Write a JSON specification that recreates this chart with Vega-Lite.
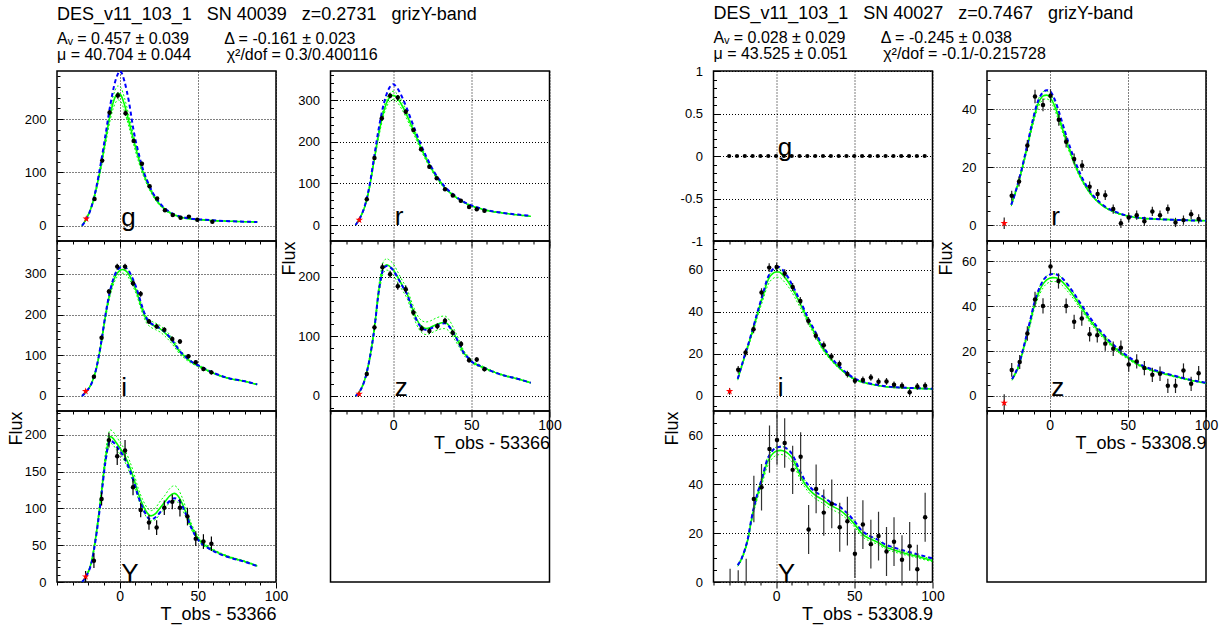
{
 "$schema": "https://vega.github.io/schema/vega-lite/v6.json",
 "padding": {"left": 6, "top": 3, "right": 5, "bottom": 5},
 "background": "#ffffff",
 "columns": 5,
 "spacing": {"row": 0, "column": 54.5},
 "bounds": "flush",
 "datasets": {
  "lab": [
   {"s":"L","b":"g","t":1,"f":0,"txt":"g"},{"s":"L","b":"r","t":1,"f":0,"txt":"r"},{"s":"L","b":"i","t":1,"f":0,"txt":"i"},{"s":"L","b":"z","t":1,"f":0,"txt":"z"},{"s":"L","b":"Y","t":1,"f":0,"txt":"Y"},
   {"s":"R","b":"g","t":1,"f":0,"txt":"g"},{"s":"R","b":"r","t":1,"f":0,"txt":"r"},{"s":"R","b":"i","t":1,"f":0,"txt":"i"},{"s":"R","b":"z","t":1,"f":0,"txt":"z"},{"s":"R","b":"Y","t":1,"f":0,"txt":"Y"}
  ],
  "pts": [
   {"s":"L","b":"g","k":"s","t":-21.3,"f":13,"el":10,"eh":16},
   {"s":"L","b":"g","k":"d","t":-16,"f":50,"el":47,"eh":53},
   {"s":"L","b":"g","k":"d","t":-11.1,"f":122,"el":118,"eh":126},
   {"s":"L","b":"g","k":"d","t":-6.4,"f":212,"el":207,"eh":217},
   {"s":"L","b":"g","k":"d","t":-1.1,"f":244,"el":238,"eh":250},
   {"s":"L","b":"g","k":"d","t":3.8,"f":211,"el":206,"eh":216},
   {"s":"L","b":"g","k":"d","t":9,"f":159,"el":155,"eh":163},
   {"s":"L","b":"g","k":"d","t":14.3,"f":116,"el":112,"eh":120},
   {"s":"L","b":"g","k":"d","t":19.2,"f":74,"el":71,"eh":77},
   {"s":"L","b":"g","k":"d","t":24,"f":51,"el":48,"eh":54},
   {"s":"L","b":"g","k":"d","t":29,"f":29,"el":26,"eh":32},
   {"s":"L","b":"g","k":"d","t":34,"f":20,"el":17,"eh":23},
   {"s":"L","b":"g","k":"d","t":39,"f":15,"el":12,"eh":18},
   {"s":"L","b":"g","k":"d","t":44.3,"f":17,"el":14,"eh":20},
   {"s":"L","b":"g","k":"d","t":49.7,"f":11,"el":8,"eh":14},
   {"s":"L","b":"g","k":"d","t":59.3,"f":7.5,"el":4.5,"eh":10.5},

   {"s":"L","b":"r","k":"s","t":-21.6,"f":12,"el":8,"eh":16},
   {"s":"L","b":"r","k":"d","t":-16.8,"f":62,"el":57,"eh":67},
   {"s":"L","b":"r","k":"d","t":-11.9,"f":161,"el":156,"eh":166},
   {"s":"L","b":"r","k":"d","t":-7.2,"f":256,"el":250,"eh":262},
   {"s":"L","b":"r","k":"d","t":-1.9,"f":310,"el":304,"eh":316},
   {"s":"L","b":"r","k":"d","t":3,"f":306,"el":300,"eh":312},
   {"s":"L","b":"r","k":"d","t":8.1,"f":272,"el":266,"eh":278},
   {"s":"L","b":"r","k":"d","t":13,"f":228,"el":223,"eh":233},
   {"s":"L","b":"r","k":"d","t":17.9,"f":182,"el":177,"eh":187},
   {"s":"L","b":"r","k":"d","t":23.2,"f":140,"el":135,"eh":145},
   {"s":"L","b":"r","k":"d","t":27.9,"f":112,"el":108,"eh":116},
   {"s":"L","b":"r","k":"d","t":33.2,"f":86,"el":82,"eh":90},
   {"s":"L","b":"r","k":"d","t":38.2,"f":71,"el":67,"eh":75},
   {"s":"L","b":"r","k":"d","t":43.3,"f":58,"el":54,"eh":62},
   {"s":"L","b":"r","k":"d","t":48.6,"f":43,"el":39,"eh":47},
   {"s":"L","b":"r","k":"d","t":53.5,"f":38,"el":34,"eh":42},
   {"s":"L","b":"r","k":"d","t":58.4,"f":34,"el":30,"eh":38},

   {"s":"L","b":"i","k":"s","t":-21.7,"f":11.5,"el":8,"eh":15},
   {"s":"L","b":"i","k":"d","t":-16.4,"f":47.5,"el":43,"eh":52},
   {"s":"L","b":"i","k":"d","t":-11.5,"f":143,"el":138,"eh":148},
   {"s":"L","b":"i","k":"d","t":-6.8,"f":257,"el":251,"eh":263},
   {"s":"L","b":"i","k":"d","t":-1.5,"f":318,"el":311,"eh":325},
   {"s":"L","b":"i","k":"d","t":3.5,"f":318,"el":311,"eh":325},
   {"s":"L","b":"i","k":"d","t":8.6,"f":277,"el":270,"eh":284},
   {"s":"L","b":"i","k":"d","t":13.5,"f":251,"el":244,"eh":258},
   {"s":"L","b":"i","k":"d","t":18.8,"f":183,"el":177,"eh":189},
   {"s":"L","b":"i","k":"d","t":23.7,"f":171,"el":165,"eh":177},
   {"s":"L","b":"i","k":"d","t":28.6,"f":163,"el":157,"eh":169},
   {"s":"L","b":"i","k":"d","t":33.7,"f":140,"el":134,"eh":146},
   {"s":"L","b":"i","k":"d","t":38.6,"f":134,"el":128,"eh":140},
   {"s":"L","b":"i","k":"d","t":44,"f":97.5,"el":92,"eh":103},
   {"s":"L","b":"i","k":"d","t":48.7,"f":83,"el":78,"eh":88},
   {"s":"L","b":"i","k":"d","t":53.6,"f":66,"el":61,"eh":71},
   {"s":"L","b":"i","k":"d","t":58.7,"f":58,"el":53,"eh":63},

   {"s":"L","b":"z","k":"s","t":-21.7,"f":3.4,"el":0,"eh":7},
   {"s":"L","b":"z","k":"d","t":-16.8,"f":37,"el":33,"eh":41},
   {"s":"L","b":"z","k":"d","t":-11.9,"f":115,"el":110,"eh":120},
   {"s":"L","b":"z","k":"d","t":-6.8,"f":216,"el":210,"eh":222},
   {"s":"L","b":"z","k":"d","t":-1.9,"f":204,"el":198,"eh":210},
   {"s":"L","b":"z","k":"d","t":3,"f":184,"el":178,"eh":190},
   {"s":"L","b":"z","k":"d","t":8.1,"f":179,"el":173,"eh":185},
   {"s":"L","b":"z","k":"d","t":13,"f":140,"el":135,"eh":145},
   {"s":"L","b":"z","k":"d","t":18.3,"f":113,"el":108,"eh":118},
   {"s":"L","b":"z","k":"d","t":23.2,"f":109,"el":104,"eh":114},
   {"s":"L","b":"z","k":"d","t":28.3,"f":117,"el":112,"eh":122},
   {"s":"L","b":"z","k":"d","t":33.2,"f":126,"el":121,"eh":131},
   {"s":"L","b":"z","k":"d","t":38.1,"f":106,"el":101,"eh":111},
   {"s":"L","b":"z","k":"d","t":43.5,"f":87,"el":82,"eh":92},
   {"s":"L","b":"z","k":"d","t":48.6,"f":60,"el":56,"eh":64},
   {"s":"L","b":"z","k":"d","t":53.5,"f":61,"el":57,"eh":65},
   {"s":"L","b":"z","k":"d","t":58.4,"f":45,"el":41,"eh":49},

   {"s":"L","b":"Y","k":"s","t":-21.7,"f":7.3,"el":0,"eh":15},
   {"s":"L","b":"Y","k":"d","t":-16.4,"f":29,"el":19,"eh":39},
   {"s":"L","b":"Y","k":"d","t":-11.5,"f":113,"el":104,"eh":122},
   {"s":"L","b":"Y","k":"d","t":-6.8,"f":193,"el":183,"eh":203},
   {"s":"L","b":"Y","k":"d","t":-1.5,"f":171,"el":159,"eh":183},
   {"s":"L","b":"Y","k":"d","t":3.5,"f":179,"el":165,"eh":193},
   {"s":"L","b":"Y","k":"d","t":8.6,"f":129,"el":118,"eh":140},
   {"s":"L","b":"Y","k":"d","t":13.5,"f":98,"el":88,"eh":108},
   {"s":"L","b":"Y","k":"d","t":18.8,"f":81,"el":71,"eh":91},
   {"s":"L","b":"Y","k":"d","t":23.7,"f":74,"el":64,"eh":84},
   {"s":"L","b":"Y","k":"d","t":28.6,"f":101,"el":91,"eh":111},
   {"s":"L","b":"Y","k":"d","t":33.7,"f":109,"el":99,"eh":119},
   {"s":"L","b":"Y","k":"d","t":38.6,"f":101,"el":89,"eh":113},
   {"s":"L","b":"Y","k":"d","t":43.4,"f":89,"el":77,"eh":101},
   {"s":"L","b":"Y","k":"d","t":48.7,"f":59,"el":49,"eh":69},
   {"s":"L","b":"Y","k":"d","t":53.6,"f":55,"el":45,"eh":65},
   {"s":"L","b":"Y","k":"d","t":58.7,"f":52,"el":42,"eh":62},

   {"s":"R","b":"g","k":"d","t":-30,"f":0,"el":0,"eh":0},{"s":"R","b":"g","k":"d","t":-25,"f":0,"el":0,"eh":0},{"s":"R","b":"g","k":"d","t":-20,"f":0,"el":0,"eh":0},{"s":"R","b":"g","k":"d","t":-15,"f":0,"el":0,"eh":0},{"s":"R","b":"g","k":"d","t":-10,"f":0,"el":0,"eh":0},{"s":"R","b":"g","k":"d","t":-5,"f":0,"el":0,"eh":0},{"s":"R","b":"g","k":"d","t":0,"f":0,"el":0,"eh":0},{"s":"R","b":"g","k":"d","t":5,"f":0,"el":0,"eh":0},{"s":"R","b":"g","k":"d","t":10,"f":0,"el":0,"eh":0},{"s":"R","b":"g","k":"d","t":15,"f":0,"el":0,"eh":0},{"s":"R","b":"g","k":"d","t":20,"f":0,"el":0,"eh":0},{"s":"R","b":"g","k":"d","t":25,"f":0,"el":0,"eh":0},{"s":"R","b":"g","k":"d","t":30,"f":0,"el":0,"eh":0},{"s":"R","b":"g","k":"d","t":35,"f":0,"el":0,"eh":0},{"s":"R","b":"g","k":"d","t":40,"f":0,"el":0,"eh":0},{"s":"R","b":"g","k":"d","t":45,"f":0,"el":0,"eh":0},{"s":"R","b":"g","k":"d","t":50,"f":0,"el":0,"eh":0},{"s":"R","b":"g","k":"d","t":55,"f":0,"el":0,"eh":0},{"s":"R","b":"g","k":"d","t":60,"f":0,"el":0,"eh":0},{"s":"R","b":"g","k":"d","t":65,"f":0,"el":0,"eh":0},{"s":"R","b":"g","k":"d","t":70,"f":0,"el":0,"eh":0},{"s":"R","b":"g","k":"d","t":75,"f":0,"el":0,"eh":0},{"s":"R","b":"g","k":"d","t":80,"f":0,"el":0,"eh":0},{"s":"R","b":"g","k":"d","t":85,"f":0,"el":0,"eh":0},{"s":"R","b":"g","k":"d","t":90,"f":0,"el":0,"eh":0},{"s":"R","b":"g","k":"d","t":95,"f":0,"el":0,"eh":0},

   {"s":"R","b":"r","k":"s","t":-29,"f":0.6,"el":-1.4,"eh":2.6},
   {"s":"R","b":"r","k":"d","t":-24.2,"f":10.1,"el":8.4,"eh":11.8},
   {"s":"R","b":"r","k":"d","t":-19.5,"f":15,"el":13.3,"eh":16.7},
   {"s":"R","b":"r","k":"d","t":-14.2,"f":27.4,"el":25.5,"eh":29.3},
   {"s":"R","b":"r","k":"d","t":-9.3,"f":44.3,"el":42,"eh":46.6},
   {"s":"R","b":"r","k":"d","t":-4.2,"f":41.4,"el":39.2,"eh":43.6},
   {"s":"R","b":"r","k":"d","t":0.6,"f":44.6,"el":42.4,"eh":46.8},
   {"s":"R","b":"r","k":"d","t":5.9,"f":36.3,"el":34.2,"eh":38.4},
   {"s":"R","b":"r","k":"d","t":10.6,"f":28.7,"el":26.7,"eh":30.7},
   {"s":"R","b":"r","k":"d","t":15.7,"f":22.8,"el":20.9,"eh":24.7},
   {"s":"R","b":"r","k":"d","t":20.8,"f":20.5,"el":18.6,"eh":22.4},
   {"s":"R","b":"r","k":"d","t":25.6,"f":13.2,"el":11.4,"eh":15},
   {"s":"R","b":"r","k":"d","t":30.7,"f":10.7,"el":9,"eh":12.4},
   {"s":"R","b":"r","k":"d","t":35.6,"f":10.3,"el":8.6,"eh":12},
   {"s":"R","b":"r","k":"d","t":40.7,"f":5.5,"el":3.9,"eh":7.1},
   {"s":"R","b":"r","k":"d","t":45.6,"f":0.6,"el":-1,"eh":2.2},
   {"s":"R","b":"r","k":"d","t":50.6,"f":2.6,"el":1,"eh":4.2},
   {"s":"R","b":"r","k":"d","t":55.7,"f":3.4,"el":1.8,"eh":5},
   {"s":"R","b":"r","k":"d","t":60.6,"f":1.3,"el":-0.3,"eh":2.9},
   {"s":"R","b":"r","k":"d","t":65.7,"f":4.7,"el":3.1,"eh":6.3},
   {"s":"R","b":"r","k":"d","t":70.6,"f":3.4,"el":1.8,"eh":5},
   {"s":"R","b":"r","k":"d","t":75.6,"f":5.5,"el":3.9,"eh":7.1},
   {"s":"R","b":"r","k":"d","t":80.5,"f":0.9,"el":-0.7,"eh":2.5},
   {"s":"R","b":"r","k":"d","t":85.6,"f":1.7,"el":0.1,"eh":3.3},
   {"s":"R","b":"r","k":"d","t":90.5,"f":3.7,"el":2.1,"eh":5.3},
   {"s":"R","b":"r","k":"d","t":95.3,"f":2.1,"el":0.5,"eh":3.7},

   {"s":"R","b":"i","k":"s","t":-29.7,"f":2.1,"el":0.5,"eh":3.7},
   {"s":"R","b":"i","k":"d","t":-24.2,"f":12.4,"el":10.6,"eh":14.2},
   {"s":"R","b":"i","k":"d","t":-19.5,"f":20.6,"el":18.8,"eh":22.4},
   {"s":"R","b":"i","k":"d","t":-14.4,"f":31.7,"el":29.8,"eh":33.6},
   {"s":"R","b":"i","k":"d","t":-9.3,"f":49.2,"el":47.2,"eh":51.2},
   {"s":"R","b":"i","k":"d","t":-4.4,"f":61.1,"el":59,"eh":63.2},
   {"s":"R","b":"i","k":"d","t":0.4,"f":61.4,"el":59.3,"eh":63.5},
   {"s":"R","b":"i","k":"d","t":5.5,"f":58.3,"el":56.3,"eh":60.3},
   {"s":"R","b":"i","k":"d","t":10.6,"f":51.9,"el":50,"eh":53.8},
   {"s":"R","b":"i","k":"d","t":15.5,"f":45.2,"el":43.3,"eh":47.1},
   {"s":"R","b":"i","k":"d","t":20.6,"f":35.7,"el":33.9,"eh":37.5},
   {"s":"R","b":"i","k":"d","t":25.4,"f":28.6,"el":26.8,"eh":30.4},
   {"s":"R","b":"i","k":"d","t":30.5,"f":24.1,"el":22.3,"eh":25.9},
   {"s":"R","b":"i","k":"d","t":35.4,"f":18.7,"el":17,"eh":20.4},
   {"s":"R","b":"i","k":"d","t":40.5,"f":15.1,"el":13.4,"eh":16.8},
   {"s":"R","b":"i","k":"d","t":45.6,"f":10.3,"el":8.7,"eh":11.9},
   {"s":"R","b":"i","k":"d","t":50.4,"f":7.1,"el":5.5,"eh":8.7},
   {"s":"R","b":"i","k":"d","t":55.5,"f":7.5,"el":5.9,"eh":9.1},
   {"s":"R","b":"i","k":"d","t":60.6,"f":8.7,"el":7.1,"eh":10.3},
   {"s":"R","b":"i","k":"d","t":65.5,"f":6.7,"el":5.1,"eh":8.3},
   {"s":"R","b":"i","k":"d","t":70.6,"f":6.8,"el":5.2,"eh":8.4},
   {"s":"R","b":"i","k":"d","t":75.4,"f":5.2,"el":3.6,"eh":6.8},
   {"s":"R","b":"i","k":"d","t":80.5,"f":4.8,"el":3.2,"eh":6.4},
   {"s":"R","b":"i","k":"d","t":85.4,"f":1.6,"el":0,"eh":3.2},
   {"s":"R","b":"i","k":"d","t":90.3,"f":4.4,"el":2.8,"eh":6},
   {"s":"R","b":"i","k":"d","t":95.3,"f":4.8,"el":3.2,"eh":6.4},

   {"s":"R","b":"z","k":"s","t":-29,"f":-3.1,"el":-7,"eh":0.8},
   {"s":"R","b":"z","k":"d","t":-24.2,"f":11.6,"el":8.5,"eh":14.7},
   {"s":"R","b":"z","k":"d","t":-19.1,"f":15.1,"el":12,"eh":18.2},
   {"s":"R","b":"z","k":"d","t":-14.2,"f":27.8,"el":24.6,"eh":31},
   {"s":"R","b":"z","k":"d","t":-9.3,"f":43,"el":39.6,"eh":46.4},
   {"s":"R","b":"z","k":"d","t":-4.2,"f":40.1,"el":36.7,"eh":43.5},
   {"s":"R","b":"z","k":"d","t":0.6,"f":57.6,"el":54.2,"eh":61},
   {"s":"R","b":"z","k":"d","t":5.7,"f":51.2,"el":47.8,"eh":54.6},
   {"s":"R","b":"z","k":"d","t":10.6,"f":40.1,"el":36.8,"eh":43.4},
   {"s":"R","b":"z","k":"d","t":15.7,"f":33,"el":29.8,"eh":36.2},
   {"s":"R","b":"z","k":"d","t":20.6,"f":34.5,"el":31.3,"eh":37.7},
   {"s":"R","b":"z","k":"d","t":25.6,"f":27.5,"el":24.3,"eh":30.7},
   {"s":"R","b":"z","k":"d","t":30.5,"f":27,"el":23.8,"eh":30.2},
   {"s":"R","b":"z","k":"d","t":35.6,"f":23.3,"el":20.1,"eh":26.5},
   {"s":"R","b":"z","k":"d","t":40.7,"f":21,"el":17.8,"eh":24.2},
   {"s":"R","b":"z","k":"d","t":45.6,"f":21.5,"el":18.3,"eh":24.7},
   {"s":"R","b":"z","k":"d","t":50.6,"f":14,"el":10.8,"eh":17.2},
   {"s":"R","b":"z","k":"d","t":55.7,"f":15.4,"el":12.2,"eh":18.6},
   {"s":"R","b":"z","k":"d","t":60.6,"f":12.4,"el":9.2,"eh":15.6},
   {"s":"R","b":"z","k":"d","t":65.7,"f":9.4,"el":6.2,"eh":12.6},
   {"s":"R","b":"z","k":"d","t":70.6,"f":9.9,"el":6.7,"eh":13.1},
   {"s":"R","b":"z","k":"d","t":75.6,"f":4.5,"el":1.3,"eh":7.7},
   {"s":"R","b":"z","k":"d","t":80.5,"f":4.5,"el":1.3,"eh":7.7},
   {"s":"R","b":"z","k":"d","t":85.6,"f":11.3,"el":8.1,"eh":14.5},
   {"s":"R","b":"z","k":"d","t":90.5,"f":5.4,"el":2.2,"eh":8.6},
   {"s":"R","b":"z","k":"d","t":95.3,"f":10.1,"el":6.9,"eh":13.3},

   {"s":"R","b":"Y","k":"d","t":-29.4,"f":-5,"el":-15.4,"eh":5.4},
   {"s":"R","b":"Y","k":"d","t":-24.2,"f":-5.5,"el":-15.8,"eh":4.8},
   {"s":"R","b":"Y","k":"d","t":-19.1,"f":-1,"el":-11.5,"eh":9.5},
   {"s":"R","b":"Y","k":"d","t":-14.2,"f":34,"el":24.5,"eh":43.5},
   {"s":"R","b":"Y","k":"d","t":-9.3,"f":38.8,"el":29.3,"eh":48.3},
   {"s":"R","b":"Y","k":"d","t":-4.2,"f":54.4,"el":44.7,"eh":64.1},
   {"s":"R","b":"Y","k":"d","t":0.6,"f":58.1,"el":48,"eh":68.2},
   {"s":"R","b":"Y","k":"d","t":5.5,"f":56.9,"el":46.8,"eh":67},
   {"s":"R","b":"Y","k":"d","t":10.6,"f":45.9,"el":36,"eh":55.8},
   {"s":"R","b":"Y","k":"d","t":15.7,"f":51.3,"el":41.3,"eh":61.3},
   {"s":"R","b":"Y","k":"d","t":20.8,"f":21.5,"el":11.5,"eh":31.5},
   {"s":"R","b":"Y","k":"d","t":25.6,"f":38.1,"el":28.1,"eh":48.1},
   {"s":"R","b":"Y","k":"d","t":30.5,"f":28.4,"el":18.9,"eh":37.9},
   {"s":"R","b":"Y","k":"d","t":35.6,"f":32,"el":22,"eh":42},
   {"s":"R","b":"Y","k":"d","t":40.7,"f":22.4,"el":12.4,"eh":32.4},
   {"s":"R","b":"Y","k":"d","t":45.6,"f":24.9,"el":14.9,"eh":34.9},
   {"s":"R","b":"Y","k":"d","t":50.4,"f":11.6,"el":1.6,"eh":21.6},
   {"s":"R","b":"Y","k":"d","t":55.5,"f":23.5,"el":13.5,"eh":33.5},
   {"s":"R","b":"Y","k":"d","t":60.6,"f":15.5,"el":5.5,"eh":25.5},
   {"s":"R","b":"Y","k":"d","t":65.5,"f":18.8,"el":8.8,"eh":28.8},
   {"s":"R","b":"Y","k":"d","t":70.6,"f":12.5,"el":2.5,"eh":22.5},
   {"s":"R","b":"Y","k":"d","t":75.4,"f":16.5,"el":6.5,"eh":26.5},
   {"s":"R","b":"Y","k":"d","t":80.5,"f":9.1,"el":-0.9,"eh":19.1},
   {"s":"R","b":"Y","k":"d","t":85.4,"f":14.6,"el":4.6,"eh":24.6},
   {"s":"R","b":"Y","k":"d","t":90.3,"f":5.2,"el":-4.8,"eh":15.2},
   {"s":"R","b":"Y","k":"d","t":95.3,"f":26.5,"el":16.5,"eh":36.5}
  ],
  "crv": [
   {"s":"L","b":"g","t":-24,"fit":0,"lo":0,"hi":0,"alt":0},
   {"s":"L","b":"g","t":-21,"fit":14,"lo":13,"hi":15,"alt":13},
   {"s":"L","b":"g","t":-18,"fit":35,"lo":33,"hi":37,"alt":35},
   {"s":"L","b":"g","t":-15,"fit":68,"lo":64,"hi":72,"alt":70},
   {"s":"L","b":"g","t":-12,"fit":110,"lo":104,"hi":116,"alt":117},
   {"s":"L","b":"g","t":-9,"fit":160,"lo":152,"hi":168,"alt":170},
   {"s":"L","b":"g","t":-6,"fit":208,"lo":198,"hi":218,"alt":225},
   {"s":"L","b":"g","t":-3,"fit":240,"lo":228,"hi":253,"alt":268},
   {"s":"L","b":"g","t":-1,"fit":248,"lo":236,"hi":262,"alt":285},
   {"s":"L","b":"g","t":0,"fit":247,"lo":235,"hi":261,"alt":290},
   {"s":"L","b":"g","t":1,"fit":244,"lo":232,"hi":258,"alt":288},
   {"s":"L","b":"g","t":3,"fit":228,"lo":216,"hi":241,"alt":272},
   {"s":"L","b":"g","t":6,"fit":195,"lo":185,"hi":206,"alt":232},
   {"s":"L","b":"g","t":9,"fit":160,"lo":152,"hi":169,"alt":178},
   {"s":"L","b":"g","t":12,"fit":128,"lo":121,"hi":135,"alt":138},
   {"s":"L","b":"g","t":15,"fit":100,"lo":95,"hi":106,"alt":105},
   {"s":"L","b":"g","t":18,"fit":78,"lo":74,"hi":83,"alt":82},
   {"s":"L","b":"g","t":21,"fit":60,"lo":57,"hi":64,"alt":63},
   {"s":"L","b":"g","t":24,"fit":46,"lo":44,"hi":49,"alt":49},
   {"s":"L","b":"g","t":27,"fit":36,"lo":34,"hi":38,"alt":38},
   {"s":"L","b":"g","t":30,"fit":28,"lo":26.5,"hi":29.5,"alt":30},
   {"s":"L","b":"g","t":33,"fit":23,"lo":22,"hi":24.5,"alt":24},
   {"s":"L","b":"g","t":36,"fit":19,"lo":18,"hi":20,"alt":20},
   {"s":"L","b":"g","t":39,"fit":16,"lo":15,"hi":17,"alt":17},
   {"s":"L","b":"g","t":42,"fit":14,"lo":13.3,"hi":14.8,"alt":15},
   {"s":"L","b":"g","t":45,"fit":13,"lo":12.3,"hi":13.7,"alt":13.5},
   {"s":"L","b":"g","t":50,"fit":11.5,"lo":11,"hi":12,"alt":12},
   {"s":"L","b":"g","t":55,"fit":10.5,"lo":10,"hi":11,"alt":11},
   {"s":"L","b":"g","t":60,"fit":9.5,"lo":9,"hi":10,"alt":10},
   {"s":"L","b":"g","t":70,"fit":8.5,"lo":8,"hi":9,"alt":8.5},
   {"s":"L","b":"g","t":80,"fit":7.5,"lo":7.1,"hi":7.9,"alt":7.5},
   {"s":"L","b":"g","t":88,"fit":7,"lo":6.6,"hi":7.4,"alt":7},

   {"s":"L","b":"r","t":-24,"fit":0,"lo":0,"hi":0,"alt":0},
   {"s":"L","b":"r","t":-21,"fit":18,"lo":17,"hi":19,"alt":18},
   {"s":"L","b":"r","t":-18,"fit":45,"lo":43,"hi":47,"alt":47},
   {"s":"L","b":"r","t":-15,"fit":92,"lo":88,"hi":96,"alt":96},
   {"s":"L","b":"r","t":-12,"fit":158,"lo":152,"hi":164,"alt":166},
   {"s":"L","b":"r","t":-9,"fit":222,"lo":214,"hi":230,"alt":235},
   {"s":"L","b":"r","t":-6,"fit":272,"lo":263,"hi":281,"alt":290},
   {"s":"L","b":"r","t":-3,"fit":302,"lo":292,"hi":312,"alt":325},
   {"s":"L","b":"r","t":-1,"fit":310,"lo":300,"hi":320,"alt":336},
   {"s":"L","b":"r","t":0,"fit":311,"lo":301,"hi":321,"alt":338},
   {"s":"L","b":"r","t":1,"fit":310,"lo":300,"hi":320,"alt":336},
   {"s":"L","b":"r","t":3,"fit":303,"lo":293,"hi":313,"alt":327},
   {"s":"L","b":"r","t":6,"fit":285,"lo":275,"hi":295,"alt":305},
   {"s":"L","b":"r","t":9,"fit":262,"lo":253,"hi":271,"alt":278},
   {"s":"L","b":"r","t":12,"fit":236,"lo":228,"hi":244,"alt":248},
   {"s":"L","b":"r","t":15,"fit":210,"lo":203,"hi":217,"alt":219},
   {"s":"L","b":"r","t":18,"fit":184,"lo":178,"hi":190,"alt":191},
   {"s":"L","b":"r","t":21,"fit":160,"lo":155,"hi":165,"alt":166},
   {"s":"L","b":"r","t":24,"fit":139,"lo":135,"hi":143,"alt":143},
   {"s":"L","b":"r","t":27,"fit":120,"lo":116,"hi":124,"alt":123},
   {"s":"L","b":"r","t":30,"fit":104,"lo":101,"hi":107,"alt":107},
   {"s":"L","b":"r","t":33,"fit":90,"lo":87,"hi":93,"alt":92},
   {"s":"L","b":"r","t":36,"fit":79,"lo":77,"hi":81,"alt":81},
   {"s":"L","b":"r","t":39,"fit":70,"lo":68,"hi":72,"alt":72},
   {"s":"L","b":"r","t":42,"fit":62,"lo":60,"hi":64,"alt":63},
   {"s":"L","b":"r","t":45,"fit":55,"lo":53.5,"hi":56.5,"alt":56},
   {"s":"L","b":"r","t":50,"fit":46,"lo":45,"hi":47,"alt":47},
   {"s":"L","b":"r","t":55,"fit":40,"lo":39,"hi":41,"alt":41},
   {"s":"L","b":"r","t":60,"fit":35,"lo":34,"hi":36,"alt":36},
   {"s":"L","b":"r","t":70,"fit":29,"lo":28.3,"hi":29.7,"alt":29},
   {"s":"L","b":"r","t":80,"fit":24,"lo":23.4,"hi":24.6,"alt":25},
   {"s":"L","b":"r","t":88,"fit":21,"lo":20.5,"hi":21.5,"alt":22},

   {"s":"L","b":"i","t":-24,"fit":0,"lo":0,"hi":0,"alt":0},
   {"s":"L","b":"i","t":-21,"fit":12,"lo":11,"hi":13,"alt":12},
   {"s":"L","b":"i","t":-18,"fit":30,"lo":28,"hi":32,"alt":30},
   {"s":"L","b":"i","t":-15,"fit":65,"lo":62,"hi":68,"alt":66},
   {"s":"L","b":"i","t":-12,"fit":124,"lo":119,"hi":129,"alt":126},
   {"s":"L","b":"i","t":-9,"fit":197,"lo":190,"hi":204,"alt":200},
   {"s":"L","b":"i","t":-6,"fit":255,"lo":247,"hi":263,"alt":260},
   {"s":"L","b":"i","t":-3,"fit":292,"lo":283,"hi":301,"alt":298},
   {"s":"L","b":"i","t":0,"fit":308,"lo":299,"hi":317,"alt":315},
   {"s":"L","b":"i","t":2,"fit":311,"lo":302,"hi":320,"alt":318},
   {"s":"L","b":"i","t":5,"fit":304,"lo":295,"hi":313,"alt":312},
   {"s":"L","b":"i","t":8,"fit":283,"lo":274,"hi":292,"alt":292},
   {"s":"L","b":"i","t":11,"fit":255,"lo":247,"hi":263,"alt":263},
   {"s":"L","b":"i","t":14,"fit":218,"lo":210,"hi":226,"alt":225},
   {"s":"L","b":"i","t":17,"fit":189,"lo":181,"hi":197,"alt":193},
   {"s":"L","b":"i","t":20,"fit":177,"lo":169,"hi":185,"alt":179},
   {"s":"L","b":"i","t":23,"fit":171,"lo":163,"hi":179,"alt":172},
   {"s":"L","b":"i","t":26,"fit":165,"lo":157,"hi":173,"alt":166},
   {"s":"L","b":"i","t":29,"fit":155,"lo":147,"hi":163,"alt":157},
   {"s":"L","b":"i","t":32,"fit":143,"lo":135,"hi":151,"alt":145},
   {"s":"L","b":"i","t":35,"fit":128,"lo":121,"hi":135,"alt":130},
   {"s":"L","b":"i","t":38,"fit":111,"lo":105,"hi":117,"alt":113},
   {"s":"L","b":"i","t":41,"fit":99,"lo":94,"hi":104,"alt":100},
   {"s":"L","b":"i","t":44,"fit":89,"lo":85,"hi":93,"alt":90},
   {"s":"L","b":"i","t":47,"fit":81,"lo":78,"hi":84,"alt":82},
   {"s":"L","b":"i","t":50,"fit":75,"lo":72,"hi":78,"alt":76},
   {"s":"L","b":"i","t":55,"fit":65,"lo":63,"hi":67,"alt":66},
   {"s":"L","b":"i","t":60,"fit":56,"lo":54.5,"hi":57.5,"alt":57},
   {"s":"L","b":"i","t":70,"fit":43,"lo":42,"hi":44,"alt":43.5},
   {"s":"L","b":"i","t":80,"fit":36,"lo":35,"hi":37,"alt":36},
   {"s":"L","b":"i","t":88,"fit":28,"lo":27.3,"hi":28.7,"alt":28.5},

   {"s":"L","b":"z","t":-24,"fit":0,"lo":0,"hi":0,"alt":0},
   {"s":"L","b":"z","t":-21,"fit":9,"lo":8,"hi":10,"alt":9},
   {"s":"L","b":"z","t":-18,"fit":28,"lo":26,"hi":30,"alt":28},
   {"s":"L","b":"z","t":-15,"fit":62,"lo":58,"hi":66,"alt":62},
   {"s":"L","b":"z","t":-12,"fit":112,"lo":106,"hi":118,"alt":112},
   {"s":"L","b":"z","t":-9,"fit":179,"lo":171,"hi":187,"alt":178},
   {"s":"L","b":"z","t":-6,"fit":216,"lo":207,"hi":226,"alt":214},
   {"s":"L","b":"z","t":-4,"fit":220,"lo":211,"hi":230,"alt":218},
   {"s":"L","b":"z","t":-2,"fit":217,"lo":208,"hi":227,"alt":216},
   {"s":"L","b":"z","t":0,"fit":212,"lo":203,"hi":222,"alt":211},
   {"s":"L","b":"z","t":3,"fit":199,"lo":190,"hi":208,"alt":198},
   {"s":"L","b":"z","t":6,"fit":185,"lo":177,"hi":193,"alt":184},
   {"s":"L","b":"z","t":9,"fit":171,"lo":163,"hi":179,"alt":170},
   {"s":"L","b":"z","t":12,"fit":149,"lo":141,"hi":157,"alt":148},
   {"s":"L","b":"z","t":15,"fit":129,"lo":120,"hi":138,"alt":127},
   {"s":"L","b":"z","t":18,"fit":117,"lo":107,"hi":127,"alt":115},
   {"s":"L","b":"z","t":21,"fit":113,"lo":103,"hi":124,"alt":111},
   {"s":"L","b":"z","t":24,"fit":115,"lo":105,"hi":126,"alt":113},
   {"s":"L","b":"z","t":27,"fit":119,"lo":109,"hi":130,"alt":117},
   {"s":"L","b":"z","t":30,"fit":122,"lo":112,"hi":133,"alt":120},
   {"s":"L","b":"z","t":33,"fit":123.5,"lo":113,"hi":134,"alt":122},
   {"s":"L","b":"z","t":36,"fit":117,"lo":108,"hi":127,"alt":116},
   {"s":"L","b":"z","t":39,"fit":104,"lo":96,"hi":112,"alt":104},
   {"s":"L","b":"z","t":42,"fit":89,"lo":83,"hi":95,"alt":89},
   {"s":"L","b":"z","t":45,"fit":73,"lo":69,"hi":77,"alt":73},
   {"s":"L","b":"z","t":48,"fit":64,"lo":61,"hi":67,"alt":64},
   {"s":"L","b":"z","t":51,"fit":56,"lo":54,"hi":58,"alt":56},
   {"s":"L","b":"z","t":55,"fit":51,"lo":49,"hi":53,"alt":51},
   {"s":"L","b":"z","t":60,"fit":45,"lo":43.5,"hi":46.5,"alt":45},
   {"s":"L","b":"z","t":70,"fit":35,"lo":34,"hi":36,"alt":35},
   {"s":"L","b":"z","t":80,"fit":28.5,"lo":27.7,"hi":29.3,"alt":28.5},
   {"s":"L","b":"z","t":88,"fit":22,"lo":21.4,"hi":22.6,"alt":22},

   {"s":"L","b":"Y","t":-24,"fit":0,"lo":0,"hi":0,"alt":0},
   {"s":"L","b":"Y","t":-21,"fit":9,"lo":8,"hi":10,"alt":9},
   {"s":"L","b":"Y","t":-18,"fit":27,"lo":25,"hi":29,"alt":26},
   {"s":"L","b":"Y","t":-15,"fit":64,"lo":60,"hi":68,"alt":62},
   {"s":"L","b":"Y","t":-12,"fit":114,"lo":108,"hi":120,"alt":111},
   {"s":"L","b":"Y","t":-9,"fit":168,"lo":160,"hi":176,"alt":164},
   {"s":"L","b":"Y","t":-7,"fit":193,"lo":184,"hi":202,"alt":188},
   {"s":"L","b":"Y","t":-6,"fit":198,"lo":189,"hi":207,"alt":192},
   {"s":"L","b":"Y","t":-4,"fit":195,"lo":186,"hi":204,"alt":190},
   {"s":"L","b":"Y","t":-2,"fit":189,"lo":180,"hi":198,"alt":185},
   {"s":"L","b":"Y","t":0,"fit":183,"lo":175,"hi":191,"alt":179},
   {"s":"L","b":"Y","t":3,"fit":173,"lo":165,"hi":181,"alt":169},
   {"s":"L","b":"Y","t":6,"fit":159,"lo":151,"hi":167,"alt":155},
   {"s":"L","b":"Y","t":9,"fit":141,"lo":133,"hi":149,"alt":137},
   {"s":"L","b":"Y","t":12,"fit":120,"lo":113,"hi":127,"alt":116},
   {"s":"L","b":"Y","t":15,"fit":104,"lo":97,"hi":111,"alt":100},
   {"s":"L","b":"Y","t":18,"fit":93,"lo":86,"hi":100,"alt":88},
   {"s":"L","b":"Y","t":20,"fit":90,"lo":83,"hi":97,"alt":85},
   {"s":"L","b":"Y","t":23,"fit":93,"lo":85,"hi":101,"alt":88},
   {"s":"L","b":"Y","t":26,"fit":101,"lo":93,"hi":110,"alt":95},
   {"s":"L","b":"Y","t":29,"fit":109,"lo":100,"hi":118,"alt":103},
   {"s":"L","b":"Y","t":32,"fit":117,"lo":108,"hi":127,"alt":110},
   {"s":"L","b":"Y","t":35,"fit":120.5,"lo":111,"hi":131,"alt":114},
   {"s":"L","b":"Y","t":37,"fit":118,"lo":109,"hi":128,"alt":113},
   {"s":"L","b":"Y","t":40,"fit":107,"lo":99,"hi":115,"alt":104},
   {"s":"L","b":"Y","t":43,"fit":91,"lo":85,"hi":97,"alt":89},
   {"s":"L","b":"Y","t":46,"fit":75,"lo":71,"hi":79,"alt":73},
   {"s":"L","b":"Y","t":49,"fit":63,"lo":60,"hi":66,"alt":61},
   {"s":"L","b":"Y","t":52,"fit":54.5,"lo":52,"hi":57,"alt":53},
   {"s":"L","b":"Y","t":56,"fit":48,"lo":46,"hi":50,"alt":47},
   {"s":"L","b":"Y","t":60,"fit":43,"lo":41.5,"hi":44.5,"alt":42},
   {"s":"L","b":"Y","t":70,"fit":34,"lo":33,"hi":35,"alt":33.5},
   {"s":"L","b":"Y","t":80,"fit":28,"lo":27.2,"hi":28.8,"alt":27.5},
   {"s":"L","b":"Y","t":88,"fit":22,"lo":21.4,"hi":22.6,"alt":21.5},

   {"s":"R","b":"r","t":-24.5,"fit":7,"lo":6.5,"hi":7.5,"alt":7},
   {"s":"R","b":"r","t":-22,"fit":11,"lo":10.4,"hi":11.6,"alt":11},
   {"s":"R","b":"r","t":-20,"fit":14.5,"lo":13.8,"hi":15.2,"alt":14.8},
   {"s":"R","b":"r","t":-18,"fit":18.5,"lo":17.7,"hi":19.3,"alt":18.9},
   {"s":"R","b":"r","t":-16,"fit":23,"lo":22.1,"hi":23.9,"alt":23.5},
   {"s":"R","b":"r","t":-14,"fit":27.5,"lo":26.5,"hi":28.5,"alt":28.2},
   {"s":"R","b":"r","t":-12,"fit":32.5,"lo":31.4,"hi":33.6,"alt":33.2},
   {"s":"R","b":"r","t":-10,"fit":37,"lo":35.8,"hi":38.2,"alt":37.8},
   {"s":"R","b":"r","t":-8,"fit":40.8,"lo":39.5,"hi":42.1,"alt":41.8},
   {"s":"R","b":"r","t":-6,"fit":43.3,"lo":42,"hi":44.7,"alt":44.4},
   {"s":"R","b":"r","t":-4,"fit":44.6,"lo":43.3,"hi":46,"alt":45.8},
   {"s":"R","b":"r","t":-2,"fit":44.8,"lo":43.5,"hi":46.2,"alt":46.5},
   {"s":"R","b":"r","t":0,"fit":44.2,"lo":42.9,"hi":45.6,"alt":46.3},
   {"s":"R","b":"r","t":2,"fit":42.5,"lo":41.2,"hi":43.9,"alt":44.8},
   {"s":"R","b":"r","t":4,"fit":40,"lo":38.7,"hi":41.4,"alt":42.3},
   {"s":"R","b":"r","t":6,"fit":36.8,"lo":35.6,"hi":38.1,"alt":39},
   {"s":"R","b":"r","t":8,"fit":33.5,"lo":32.4,"hi":34.7,"alt":35.5},
   {"s":"R","b":"r","t":10,"fit":30.2,"lo":29.2,"hi":31.3,"alt":32},
   {"s":"R","b":"r","t":12,"fit":27,"lo":26.1,"hi":28,"alt":28.6},
   {"s":"R","b":"r","t":14,"fit":24,"lo":23.2,"hi":24.9,"alt":25.4},
   {"s":"R","b":"r","t":16,"fit":21.2,"lo":20.5,"hi":22,"alt":22.4},
   {"s":"R","b":"r","t":18,"fit":18.6,"lo":18,"hi":19.3,"alt":19.7},
   {"s":"R","b":"r","t":20,"fit":16.3,"lo":15.8,"hi":16.9,"alt":17.2},
   {"s":"R","b":"r","t":24,"fit":12.5,"lo":12.1,"hi":13,"alt":13.2},
   {"s":"R","b":"r","t":28,"fit":9.6,"lo":9.3,"hi":9.9,"alt":10.1},
   {"s":"R","b":"r","t":32,"fit":7.5,"lo":7.3,"hi":7.8,"alt":7.9},
   {"s":"R","b":"r","t":36,"fit":5.9,"lo":5.7,"hi":6.1,"alt":6.2},
   {"s":"R","b":"r","t":40,"fit":4.8,"lo":4.6,"hi":5,"alt":5},
   {"s":"R","b":"r","t":45,"fit":3.8,"lo":3.6,"hi":4,"alt":4},
   {"s":"R","b":"r","t":50,"fit":3.1,"lo":3,"hi":3.3,"alt":3.2},
   {"s":"R","b":"r","t":55,"fit":2.6,"lo":2.5,"hi":2.7,"alt":2.7},
   {"s":"R","b":"r","t":60,"fit":2.3,"lo":2.2,"hi":2.4,"alt":2.4},
   {"s":"R","b":"r","t":70,"fit":2,"lo":1.9,"hi":2.1,"alt":2},
   {"s":"R","b":"r","t":80,"fit":1.8,"lo":1.7,"hi":1.9,"alt":1.8},
   {"s":"R","b":"r","t":90,"fit":1.6,"lo":1.5,"hi":1.7,"alt":1.6},
   {"s":"R","b":"r","t":100,"fit":1.5,"lo":1.4,"hi":1.6,"alt":1.5},

   {"s":"R","b":"i","t":-24.5,"fit":7.9,"lo":7.4,"hi":8.4,"alt":8.1},
   {"s":"R","b":"i","t":-22,"fit":14,"lo":13.3,"hi":14.6,"alt":14.3},
   {"s":"R","b":"i","t":-20,"fit":19,"lo":18.2,"hi":19.8,"alt":19.4},
   {"s":"R","b":"i","t":-18,"fit":23.5,"lo":22.6,"hi":24.4,"alt":24},
   {"s":"R","b":"i","t":-16,"fit":28.5,"lo":27.4,"hi":29.5,"alt":29.1},
   {"s":"R","b":"i","t":-14,"fit":33.5,"lo":32.2,"hi":34.6,"alt":34.2},
   {"s":"R","b":"i","t":-12,"fit":38.8,"lo":37.3,"hi":40,"alt":39.6},
   {"s":"R","b":"i","t":-10,"fit":43.7,"lo":42,"hi":45,"alt":44.7},
   {"s":"R","b":"i","t":-8,"fit":48.5,"lo":46.6,"hi":49.8,"alt":49.7},
   {"s":"R","b":"i","t":-6,"fit":53.5,"lo":51.3,"hi":54.8,"alt":54.9},
   {"s":"R","b":"i","t":-4,"fit":56.8,"lo":54.4,"hi":58.1,"alt":58.4},
   {"s":"R","b":"i","t":-2,"fit":58.4,"lo":55.9,"hi":59.7,"alt":60.3},
   {"s":"R","b":"i","t":0,"fit":59,"lo":56.5,"hi":60.4,"alt":61.2},
   {"s":"R","b":"i","t":2,"fit":59,"lo":56.5,"hi":60.4,"alt":61.4},
   {"s":"R","b":"i","t":4,"fit":57.8,"lo":55.4,"hi":59.2,"alt":60.2},
   {"s":"R","b":"i","t":6,"fit":56,"lo":53.7,"hi":57.4,"alt":58.3},
   {"s":"R","b":"i","t":8,"fit":54,"lo":51.8,"hi":55.4,"alt":56.1},
   {"s":"R","b":"i","t":10,"fit":51.6,"lo":49.5,"hi":53,"alt":53.3},
   {"s":"R","b":"i","t":12,"fit":48.8,"lo":46.8,"hi":50.2,"alt":50.4},
   {"s":"R","b":"i","t":14,"fit":45.9,"lo":44,"hi":47.2,"alt":47.4},
   {"s":"R","b":"i","t":16,"fit":43,"lo":41.3,"hi":44.3,"alt":44.4},
   {"s":"R","b":"i","t":18,"fit":39.8,"lo":38.3,"hi":41,"alt":41.1},
   {"s":"R","b":"i","t":20,"fit":36.5,"lo":35.1,"hi":37.6,"alt":37.8},
   {"s":"R","b":"i","t":23,"fit":32.2,"lo":31,"hi":33.2,"alt":33.4},
   {"s":"R","b":"i","t":26,"fit":28,"lo":27,"hi":28.9,"alt":29.2},
   {"s":"R","b":"i","t":29,"fit":23.6,"lo":22.8,"hi":24.4,"alt":24.7},
   {"s":"R","b":"i","t":32,"fit":20.3,"lo":19.6,"hi":21,"alt":21.3},
   {"s":"R","b":"i","t":35,"fit":17.5,"lo":16.9,"hi":18.1,"alt":18.4},
   {"s":"R","b":"i","t":38,"fit":15,"lo":14.5,"hi":15.5,"alt":15.8},
   {"s":"R","b":"i","t":41,"fit":12.9,"lo":12.5,"hi":13.3,"alt":13.6},
   {"s":"R","b":"i","t":44,"fit":10.9,"lo":10.6,"hi":11.2,"alt":11.5},
   {"s":"R","b":"i","t":47,"fit":9.3,"lo":9,"hi":9.6,"alt":9.8},
   {"s":"R","b":"i","t":50,"fit":7.9,"lo":7.7,"hi":8.1,"alt":8.3},
   {"s":"R","b":"i","t":55,"fit":6.5,"lo":6.3,"hi":6.7,"alt":6.8},
   {"s":"R","b":"i","t":60,"fit":5.6,"lo":5.4,"hi":5.8,"alt":5.8},
   {"s":"R","b":"i","t":70,"fit":4.3,"lo":4.2,"hi":4.4,"alt":4.5},
   {"s":"R","b":"i","t":80,"fit":3.8,"lo":3.7,"hi":3.9,"alt":3.9},
   {"s":"R","b":"i","t":90,"fit":3.5,"lo":3.4,"hi":3.6,"alt":3.6},
   {"s":"R","b":"i","t":100,"fit":3.2,"lo":3.1,"hi":3.3,"alt":3.3},

   {"s":"R","b":"z","t":-24,"fit":7.3,"lo":6.9,"hi":7.7,"alt":7.5},
   {"s":"R","b":"z","t":-22,"fit":9.8,"lo":9.3,"hi":10.3,"alt":10.1},
   {"s":"R","b":"z","t":-20,"fit":12.8,"lo":12.2,"hi":13.4,"alt":13.2},
   {"s":"R","b":"z","t":-18,"fit":17.5,"lo":16.8,"hi":18.2,"alt":18},
   {"s":"R","b":"z","t":-16,"fit":22.8,"lo":21.9,"hi":23.7,"alt":23.4},
   {"s":"R","b":"z","t":-14,"fit":28.2,"lo":27.1,"hi":29.3,"alt":29},
   {"s":"R","b":"z","t":-12,"fit":33.8,"lo":32.5,"hi":35.1,"alt":34.8},
   {"s":"R","b":"z","t":-10,"fit":39.7,"lo":38.2,"hi":41.2,"alt":40.8},
   {"s":"R","b":"z","t":-8,"fit":44,"lo":42.4,"hi":45.6,"alt":45.3},
   {"s":"R","b":"z","t":-6,"fit":47.5,"lo":45.8,"hi":49.2,"alt":48.9},
   {"s":"R","b":"z","t":-4,"fit":50,"lo":48.3,"hi":51.7,"alt":51.5},
   {"s":"R","b":"z","t":-2,"fit":51.6,"lo":49.9,"hi":53.3,"alt":53.2},
   {"s":"R","b":"z","t":0,"fit":52.4,"lo":50.7,"hi":54.1,"alt":54},
   {"s":"R","b":"z","t":2,"fit":52.7,"lo":51,"hi":54.4,"alt":54.3},
   {"s":"R","b":"z","t":4,"fit":52.6,"lo":50.9,"hi":54.3,"alt":54.2},
   {"s":"R","b":"z","t":6,"fit":52,"lo":50.3,"hi":53.7,"alt":53.6},
   {"s":"R","b":"z","t":8,"fit":50.9,"lo":49.3,"hi":52.5,"alt":52.5},
   {"s":"R","b":"z","t":10,"fit":49.4,"lo":47.8,"hi":51,"alt":51},
   {"s":"R","b":"z","t":12,"fit":47.7,"lo":46.2,"hi":49.2,"alt":49.2},
   {"s":"R","b":"z","t":15,"fit":44.9,"lo":43.5,"hi":46.3,"alt":46.3},
   {"s":"R","b":"z","t":18,"fit":41.8,"lo":40.5,"hi":43.1,"alt":43.1},
   {"s":"R","b":"z","t":20,"fit":39.7,"lo":38.5,"hi":40.9,"alt":41},
   {"s":"R","b":"z","t":25,"fit":34.5,"lo":33.4,"hi":35.6,"alt":35.7},
   {"s":"R","b":"z","t":30,"fit":30,"lo":29,"hi":31,"alt":31.1},
   {"s":"R","b":"z","t":35,"fit":26,"lo":25.1,"hi":26.9,"alt":27},
   {"s":"R","b":"z","t":40,"fit":22.5,"lo":21.7,"hi":23.3,"alt":23.4},
   {"s":"R","b":"z","t":45,"fit":19.5,"lo":18.8,"hi":20.2,"alt":20.3},
   {"s":"R","b":"z","t":50,"fit":17,"lo":16.4,"hi":17.6,"alt":17.7},
   {"s":"R","b":"z","t":55,"fit":14.7,"lo":14.2,"hi":15.2,"alt":15.3},
   {"s":"R","b":"z","t":60,"fit":12.8,"lo":12.4,"hi":13.2,"alt":13.3},
   {"s":"R","b":"z","t":65,"fit":11.6,"lo":11.2,"hi":12,"alt":12},
   {"s":"R","b":"z","t":70,"fit":10.6,"lo":10.3,"hi":10.9,"alt":10.9},
   {"s":"R","b":"z","t":75,"fit":9.6,"lo":9.3,"hi":9.9,"alt":9.9},
   {"s":"R","b":"z","t":80,"fit":8.7,"lo":8.4,"hi":9,"alt":9},
   {"s":"R","b":"z","t":90,"fit":7,"lo":6.8,"hi":7.2,"alt":7.2},
   {"s":"R","b":"z","t":100,"fit":5.7,"lo":5.5,"hi":5.9,"alt":5.8},

   {"s":"R","b":"Y","t":-24.5,"fit":6.8,"lo":6.4,"hi":7.2,"alt":6.9},
   {"s":"R","b":"Y","t":-22,"fit":9.5,"lo":9,"hi":10,"alt":9.7},
   {"s":"R","b":"Y","t":-20,"fit":12.9,"lo":12.3,"hi":13.5,"alt":13.2},
   {"s":"R","b":"Y","t":-18,"fit":17.5,"lo":16.8,"hi":18.2,"alt":17.9},
   {"s":"R","b":"Y","t":-16,"fit":24.5,"lo":23.6,"hi":25.4,"alt":25},
   {"s":"R","b":"Y","t":-14,"fit":30.5,"lo":29.4,"hi":31.6,"alt":31.1},
   {"s":"R","b":"Y","t":-12,"fit":35.3,"lo":34,"hi":36.6,"alt":36},
   {"s":"R","b":"Y","t":-10,"fit":39.5,"lo":38,"hi":41,"alt":40.3},
   {"s":"R","b":"Y","t":-8,"fit":43.8,"lo":42.2,"hi":45.4,"alt":44.8},
   {"s":"R","b":"Y","t":-6,"fit":48.3,"lo":46.6,"hi":50,"alt":49.5},
   {"s":"R","b":"Y","t":-4,"fit":50.9,"lo":49.2,"hi":52.6,"alt":52.2},
   {"s":"R","b":"Y","t":-2,"fit":52.6,"lo":50.9,"hi":54.3,"alt":54},
   {"s":"R","b":"Y","t":0,"fit":53.5,"lo":51.8,"hi":55.2,"alt":55},
   {"s":"R","b":"Y","t":3,"fit":53.9,"lo":52.2,"hi":55.6,"alt":55.4},
   {"s":"R","b":"Y","t":6,"fit":53.3,"lo":51.6,"hi":55,"alt":54.9},
   {"s":"R","b":"Y","t":8,"fit":52.4,"lo":50.7,"hi":54.1,"alt":54},
   {"s":"R","b":"Y","t":10,"fit":51,"lo":49.3,"hi":52.7,"alt":52.6},
   {"s":"R","b":"Y","t":12,"fit":48.6,"lo":47,"hi":50.2,"alt":50.2},
   {"s":"R","b":"Y","t":15,"fit":44.2,"lo":42.7,"hi":45.7,"alt":45.8},
   {"s":"R","b":"Y","t":18,"fit":40.6,"lo":39.2,"hi":42,"alt":42.1},
   {"s":"R","b":"Y","t":20,"fit":38.8,"lo":37.4,"hi":40.2,"alt":40.2},
   {"s":"R","b":"Y","t":22,"fit":37.3,"lo":35.9,"hi":38.7,"alt":38.7},
   {"s":"R","b":"Y","t":25,"fit":35.6,"lo":34.2,"hi":37,"alt":37},
   {"s":"R","b":"Y","t":30,"fit":33.6,"lo":32.2,"hi":35,"alt":35},
   {"s":"R","b":"Y","t":35,"fit":31.3,"lo":29.9,"hi":32.7,"alt":32.6},
   {"s":"R","b":"Y","t":40,"fit":29.7,"lo":28.3,"hi":31.1,"alt":31},
   {"s":"R","b":"Y","t":45,"fit":27.2,"lo":25.9,"hi":28.5,"alt":28.5},
   {"s":"R","b":"Y","t":50,"fit":23.8,"lo":22.6,"hi":25,"alt":25},
   {"s":"R","b":"Y","t":55,"fit":19.7,"lo":18.6,"hi":20.8,"alt":20.9},
   {"s":"R","b":"Y","t":60,"fit":17.7,"lo":16.7,"hi":18.7,"alt":18.8},
   {"s":"R","b":"Y","t":65,"fit":16.3,"lo":15.4,"hi":17.2,"alt":17.3},
   {"s":"R","b":"Y","t":70,"fit":14.3,"lo":13.5,"hi":15.1,"alt":15.3},
   {"s":"R","b":"Y","t":75,"fit":13.2,"lo":12.4,"hi":14,"alt":14.2},
   {"s":"R","b":"Y","t":80,"fit":12.2,"lo":11.5,"hi":12.9,"alt":13.2},
   {"s":"R","b":"Y","t":90,"fit":10.5,"lo":9.9,"hi":11.1,"alt":11.4},
   {"s":"R","b":"Y","t":100,"fit":8.8,"lo":8.3,"hi":9.3,"alt":9.7}
  ]
 },
 "concat": [
  {
   "width": 219, "height": 170,
   "title": {"text": "DES_v11_103_1\u00a0\u00a0\u00a0SN 40039\u00a0\u00a0\u00a0z=0.2731\u00a0\u00a0\u00a0grizY-band", "subtitle": ["A\u1d65 = 0.457 \u00b1 0.039\u00a0\u00a0\u00a0\u00a0\u00a0\u00a0\u00a0 \u0394 = -0.161 \u00b1 0.023", "\u03bc = 40.704 \u00b1 0.044\u00a0\u00a0\u00a0\u00a0\u00a0\u00a0\u00a0 \u03c7\u00b2/dof = 0.3/0.400116"]},
   "resolve": {"axis": {"x": "independent", "y": "independent"}},
   "layer": [
    {"data": {"name": "crv"}, "transform": [{"filter": "datum.s=='L'&&datum.b=='g'"}], "mark": {"type": "line", "color": "#00ff00", "strokeWidth": 1.6, "interpolate": "monotone", "clip": true}, "encoding": {
      "x": {"field": "t", "type": "quantitative", "scale": {"domain": [-40,100], "nice": false, "zero": false}, "axis": {"orient": "bottom", "values": [0,50,100], "labels": false, "tickSize": 6, "title": null}},
      "y": {"field": "fit", "type": "quantitative", "scale": {"domain": [-28.7,290], "nice": false, "zero": false}, "axis": {"orient": "left", "values": [0,100,200], "tickSize": -6, "labelPadding": 17, "title": null}}}},
    {"data": {"name": "crv"}, "transform": [{"filter": "datum.s=='L'&&datum.b=='g'"}], "mark": {"type": "line", "color": "#00ff00", "strokeWidth": 1, "strokeDash": [2,2], "interpolate": "monotone", "clip": true}, "encoding": {"x": {"field": "t", "type": "quantitative", "scale": {"domain": [-40,100], "nice": false, "zero": false}, "axis": null}, "y": {"field": "lo", "type": "quantitative", "scale": {"domain": [-28.7,290], "nice": false, "zero": false}, "axis": null}}},
    {"data": {"name": "crv"}, "transform": [{"filter": "datum.s=='L'&&datum.b=='g'"}], "mark": {"type": "line", "color": "#00ff00", "strokeWidth": 1, "strokeDash": [2,2], "interpolate": "monotone", "clip": true}, "encoding": {"x": {"field": "t", "type": "quantitative", "scale": {"domain": [-40,100], "nice": false, "zero": false}, "axis": null}, "y": {"field": "hi", "type": "quantitative", "scale": {"domain": [-28.7,290], "nice": false, "zero": false}, "axis": null}}},
    {"data": {"name": "crv"}, "transform": [{"filter": "datum.s=='L'&&datum.b=='g'"}], "mark": {"type": "line", "color": "#0000ff", "strokeWidth": 2, "strokeDash": [4,3], "interpolate": "monotone", "clip": true}, "encoding": {"x": {"field": "t", "type": "quantitative", "scale": {"domain": [-40,100], "nice": false, "zero": false}, "axis": null}, "y": {"field": "alt", "type": "quantitative", "scale": {"domain": [-28.7,290], "nice": false, "zero": false}, "axis": null}}},
    {"data": {"name": "pts"}, "transform": [{"filter": "datum.s=='L'&&datum.b=='g'"}], "mark": {"type": "rule", "color": "#000", "strokeWidth": 1.2, "clip": true}, "encoding": {"x": {"field": "t", "type": "quantitative", "scale": {"domain": [-40,100], "nice": false, "zero": false}, "axis": null}, "y": {"field": "el", "type": "quantitative", "scale": {"domain": [-28.7,290], "nice": false, "zero": false}, "axis": null}, "y2": {"field": "eh"}}},
    {"data": {"name": "pts"}, "transform": [{"filter": "datum.s=='L'&&datum.b=='g'&&datum.k=='d'"}], "mark": {"type": "point", "filled": true, "color": "#000", "opacity": 1, "size": 20, "clip": true}, "encoding": {"x": {"field": "t", "type": "quantitative", "scale": {"domain": [-40,100], "nice": false, "zero": false}, "axis": null}, "y": {"field": "f", "type": "quantitative", "scale": {"domain": [-28.7,290], "nice": false, "zero": false}, "axis": null}}},
    {"data": {"name": "pts"}, "transform": [{"filter": "datum.s=='L'&&datum.b=='g'&&datum.k=='s'"}], "mark": {"type": "point", "shape": "M0,-1L0.2245,-0.309L0.9511,-0.309L0.3633,0.118L0.5878,0.809L0,0.382L-0.5878,0.809L-0.3633,0.118L-0.9511,-0.309L-0.2245,-0.309Z", "filled": true, "color": "#ff0000", "opacity": 1, "size": 60, "clip": true}, "encoding": {"x": {"field": "t", "type": "quantitative", "scale": {"domain": [-40,100], "nice": false, "zero": false}, "axis": null}, "y": {"field": "f", "type": "quantitative", "scale": {"domain": [-28.7,290], "nice": false, "zero": false}, "axis": null}}},
    {"data": {"name": "lab"}, "transform": [{"filter": "datum.s=='L'&&datum.b=='g'"}], "mark": {"type": "text", "fontSize": 26, "align": "left", "baseline": "alphabetic", "color": "#000"}, "encoding": {"x": {"field": "t", "type": "quantitative", "scale": {"domain": [-40,100], "nice": false, "zero": false}, "axis": {"orient": "bottom", "values": [-40,-30,-20,-10,10,20,30,40,60,70,80,90], "labels": false, "grid": false, "tickSize": 3, "title": null}}, "y": {"field": "f", "type": "quantitative", "scale": {"domain": [-28.7,290], "nice": false, "zero": false}, "axis": {"orient": "left", "values": [-20,20,40,60,80,120,140,160,180,220,240,260,280], "labels": false, "grid": false, "tickSize": -3, "title": null}}, "text": {"field": "txt"}}}
   ]
  },
  {
   "width": 219, "height": 170,
   "resolve": {"axis": {"x": "independent", "y": "independent"}},
   "layer": [
    {"data": {"name": "crv"}, "transform": [{"filter": "datum.s=='L'&&datum.b=='r'"}], "mark": {"type": "line", "color": "#00ff00", "strokeWidth": 1.6, "interpolate": "monotone", "clip": true}, "encoding": {
      "x": {"field": "t", "type": "quantitative", "scale": {"domain": [-40,100], "nice": false, "zero": false}, "axis": {"orient": "bottom", "values": [0,50,100], "labels": false, "tickSize": 6, "title": null}},
      "y": {"field": "fit", "type": "quantitative", "scale": {"domain": [-38.4,369.6], "nice": false, "zero": false}, "axis": {"orient": "left", "values": [0,100,200,300], "tickSize": -6, "labelPadding": 17, "title": null}}}},
    {"data": {"name": "crv"}, "transform": [{"filter": "datum.s=='L'&&datum.b=='r'"}], "mark": {"type": "line", "color": "#00ff00", "strokeWidth": 1, "strokeDash": [2,2], "interpolate": "monotone", "clip": true}, "encoding": {"x": {"field": "t", "type": "quantitative", "scale": {"domain": [-40,100], "nice": false, "zero": false}, "axis": null}, "y": {"field": "lo", "type": "quantitative", "scale": {"domain": [-38.4,369.6], "nice": false, "zero": false}, "axis": null}}},
    {"data": {"name": "crv"}, "transform": [{"filter": "datum.s=='L'&&datum.b=='r'"}], "mark": {"type": "line", "color": "#00ff00", "strokeWidth": 1, "strokeDash": [2,2], "interpolate": "monotone", "clip": true}, "encoding": {"x": {"field": "t", "type": "quantitative", "scale": {"domain": [-40,100], "nice": false, "zero": false}, "axis": null}, "y": {"field": "hi", "type": "quantitative", "scale": {"domain": [-38.4,369.6], "nice": false, "zero": false}, "axis": null}}},
    {"data": {"name": "crv"}, "transform": [{"filter": "datum.s=='L'&&datum.b=='r'"}], "mark": {"type": "line", "color": "#0000ff", "strokeWidth": 2, "strokeDash": [4,3], "interpolate": "monotone", "clip": true}, "encoding": {"x": {"field": "t", "type": "quantitative", "scale": {"domain": [-40,100], "nice": false, "zero": false}, "axis": null}, "y": {"field": "alt", "type": "quantitative", "scale": {"domain": [-38.4,369.6], "nice": false, "zero": false}, "axis": null}}},
    {"data": {"name": "pts"}, "transform": [{"filter": "datum.s=='L'&&datum.b=='r'"}], "mark": {"type": "rule", "color": "#000", "strokeWidth": 1.2, "clip": true}, "encoding": {"x": {"field": "t", "type": "quantitative", "scale": {"domain": [-40,100], "nice": false, "zero": false}, "axis": null}, "y": {"field": "el", "type": "quantitative", "scale": {"domain": [-38.4,369.6], "nice": false, "zero": false}, "axis": null}, "y2": {"field": "eh"}}},
    {"data": {"name": "pts"}, "transform": [{"filter": "datum.s=='L'&&datum.b=='r'&&datum.k=='d'"}], "mark": {"type": "point", "filled": true, "color": "#000", "opacity": 1, "size": 20, "clip": true}, "encoding": {"x": {"field": "t", "type": "quantitative", "scale": {"domain": [-40,100], "nice": false, "zero": false}, "axis": null}, "y": {"field": "f", "type": "quantitative", "scale": {"domain": [-38.4,369.6], "nice": false, "zero": false}, "axis": null}}},
    {"data": {"name": "pts"}, "transform": [{"filter": "datum.s=='L'&&datum.b=='r'&&datum.k=='s'"}], "mark": {"type": "point", "shape": "M0,-1L0.2245,-0.309L0.9511,-0.309L0.3633,0.118L0.5878,0.809L0,0.382L-0.5878,0.809L-0.3633,0.118L-0.9511,-0.309L-0.2245,-0.309Z", "filled": true, "color": "#ff0000", "opacity": 1, "size": 60, "clip": true}, "encoding": {"x": {"field": "t", "type": "quantitative", "scale": {"domain": [-40,100], "nice": false, "zero": false}, "axis": null}, "y": {"field": "f", "type": "quantitative", "scale": {"domain": [-38.4,369.6], "nice": false, "zero": false}, "axis": null}}},
    {"data": {"name": "lab"}, "transform": [{"filter": "datum.s=='L'&&datum.b=='r'"}], "mark": {"type": "text", "fontSize": 26, "align": "left", "baseline": "alphabetic", "color": "#000"}, "encoding": {"x": {"field": "t", "type": "quantitative", "scale": {"domain": [-40,100], "nice": false, "zero": false}, "axis": {"orient": "bottom", "values": [-40,-30,-20,-10,10,20,30,40,60,70,80,90], "labels": false, "grid": false, "tickSize": 3, "title": null}}, "y": {"field": "f", "type": "quantitative", "scale": {"domain": [-38.4,369.6], "nice": false, "zero": false}, "axis": {"orient": "left", "values": [-20,20,40,60,80,120,140,160,180,220,240,260,280,320,340,360], "labels": false, "grid": false, "tickSize": -3, "title": null}}, "text": {"field": "txt"}}}
   ]
  },
  {"width": 55, "height": 170, "view": {"stroke": null}, "data": {"values": [{"t": 0, "f": 0}]}, "mark": {"type": "point", "opacity": 0}, "encoding": {"x": {"field": "t", "type": "quantitative", "axis": null}, "y": {"field": "f", "type": "quantitative", "axis": null}}},
  {
   "width": 219, "height": 170,
   "title": {"text": "DES_v11_103_1\u00a0\u00a0\u00a0SN 40027\u00a0\u00a0\u00a0z=0.7467\u00a0\u00a0\u00a0grizY-band", "subtitle": ["A\u1d65 = 0.028 \u00b1 0.029\u00a0\u00a0\u00a0\u00a0\u00a0\u00a0\u00a0 \u0394 = -0.245 \u00b1 0.038", "\u03bc = 43.525 \u00b1 0.051\u00a0\u00a0\u00a0\u00a0\u00a0\u00a0\u00a0 \u03c7\u00b2/dof = -0.1/-0.215728"], "offset": 3},
   "resolve": {"axis": {"x": "independent", "y": "independent"}},
   "layer": [
    {"data": {"name": "pts"}, "transform": [{"filter": "datum.s=='R'&&datum.b=='g'"}], "mark": {"type": "point", "filled": true, "color": "#000", "opacity": 1, "size": 18, "clip": true}, "encoding": {
      "x": {"field": "t", "type": "quantitative", "scale": {"domain": [-40,100], "nice": false, "zero": false}, "axis": {"orient": "bottom", "values": [0,50,100], "labels": false, "tickSize": 6, "title": null}},
      "y": {"field": "f", "type": "quantitative", "scale": {"domain": [-1,1], "nice": false, "zero": false}, "axis": {"orient": "left", "values": [-1,-0.5,0,0.5,1], "labelExpr": "replace(format(datum.value, '~g'), '\u2212', '-')", "tickSize": -6, "labelPadding": 17, "title": null}}}},
    {"data": {"name": "lab"}, "transform": [{"filter": "datum.s=='R'&&datum.b=='g'"}], "mark": {"type": "text", "fontSize": 26, "align": "left", "baseline": "alphabetic", "color": "#000"}, "encoding": {"x": {"field": "t", "type": "quantitative", "scale": {"domain": [-40,100], "nice": false, "zero": false}, "axis": {"orient": "bottom", "values": [-40,-30,-20,-10,10,20,30,40,60,70,80,90], "labels": false, "grid": false, "tickSize": 3, "title": null}}, "y": {"field": "f", "type": "quantitative", "scale": {"domain": [-1,1], "nice": false, "zero": false}, "axis": {"orient": "left", "values": [-0.9,-0.8,-0.7,-0.6,-0.4,-0.3,-0.2,-0.1,0.1,0.2,0.3,0.4,0.6,0.7,0.8,0.9], "labels": false, "grid": false, "tickSize": -3, "title": null}}, "text": {"field": "txt"}}}
   ]
  },
  {
   "width": 219, "height": 170,
   "resolve": {"axis": {"x": "independent", "y": "independent"}},
   "layer": [
    {"data": {"name": "crv"}, "transform": [{"filter": "datum.s=='R'&&datum.b=='r'"}], "mark": {"type": "line", "color": "#00ff00", "strokeWidth": 1.6, "interpolate": "monotone", "clip": true}, "encoding": {
      "x": {"field": "t", "type": "quantitative", "scale": {"domain": [-40,100], "nice": false, "zero": false}, "axis": {"orient": "bottom", "values": [0,50,100], "labels": false, "tickSize": 6, "title": null}},
      "y": {"field": "fit", "type": "quantitative", "scale": {"domain": [-5.5,53.1], "nice": false, "zero": false}, "axis": {"orient": "left", "values": [0,20,40], "tickSize": -6, "labelPadding": 17, "title": null}}}},
    {"data": {"name": "crv"}, "transform": [{"filter": "datum.s=='R'&&datum.b=='r'"}], "mark": {"type": "line", "color": "#00ff00", "strokeWidth": 1, "strokeDash": [2,2], "interpolate": "monotone", "clip": true}, "encoding": {"x": {"field": "t", "type": "quantitative", "scale": {"domain": [-40,100], "nice": false, "zero": false}, "axis": null}, "y": {"field": "lo", "type": "quantitative", "scale": {"domain": [-5.5,53.1], "nice": false, "zero": false}, "axis": null}}},
    {"data": {"name": "crv"}, "transform": [{"filter": "datum.s=='R'&&datum.b=='r'"}], "mark": {"type": "line", "color": "#00ff00", "strokeWidth": 1, "strokeDash": [2,2], "interpolate": "monotone", "clip": true}, "encoding": {"x": {"field": "t", "type": "quantitative", "scale": {"domain": [-40,100], "nice": false, "zero": false}, "axis": null}, "y": {"field": "hi", "type": "quantitative", "scale": {"domain": [-5.5,53.1], "nice": false, "zero": false}, "axis": null}}},
    {"data": {"name": "crv"}, "transform": [{"filter": "datum.s=='R'&&datum.b=='r'"}], "mark": {"type": "line", "color": "#0000ff", "strokeWidth": 2, "strokeDash": [4,3], "interpolate": "monotone", "clip": true}, "encoding": {"x": {"field": "t", "type": "quantitative", "scale": {"domain": [-40,100], "nice": false, "zero": false}, "axis": null}, "y": {"field": "alt", "type": "quantitative", "scale": {"domain": [-5.5,53.1], "nice": false, "zero": false}, "axis": null}}},
    {"data": {"name": "pts"}, "transform": [{"filter": "datum.s=='R'&&datum.b=='r'"}], "mark": {"type": "rule", "color": "#222", "strokeWidth": 1.2, "clip": true}, "encoding": {"x": {"field": "t", "type": "quantitative", "scale": {"domain": [-40,100], "nice": false, "zero": false}, "axis": null}, "y": {"field": "el", "type": "quantitative", "scale": {"domain": [-5.5,53.1], "nice": false, "zero": false}, "axis": null}, "y2": {"field": "eh"}}},
    {"data": {"name": "pts"}, "transform": [{"filter": "datum.s=='R'&&datum.b=='r'&&datum.k=='d'"}], "mark": {"type": "point", "filled": true, "color": "#000", "opacity": 1, "size": 20, "clip": true}, "encoding": {"x": {"field": "t", "type": "quantitative", "scale": {"domain": [-40,100], "nice": false, "zero": false}, "axis": null}, "y": {"field": "f", "type": "quantitative", "scale": {"domain": [-5.5,53.1], "nice": false, "zero": false}, "axis": null}}},
    {"data": {"name": "pts"}, "transform": [{"filter": "datum.s=='R'&&datum.b=='r'&&datum.k=='s'"}], "mark": {"type": "point", "shape": "M0,-1L0.2245,-0.309L0.9511,-0.309L0.3633,0.118L0.5878,0.809L0,0.382L-0.5878,0.809L-0.3633,0.118L-0.9511,-0.309L-0.2245,-0.309Z", "filled": true, "color": "#ff0000", "opacity": 1, "size": 60, "clip": true}, "encoding": {"x": {"field": "t", "type": "quantitative", "scale": {"domain": [-40,100], "nice": false, "zero": false}, "axis": null}, "y": {"field": "f", "type": "quantitative", "scale": {"domain": [-5.5,53.1], "nice": false, "zero": false}, "axis": null}}},
    {"data": {"name": "lab"}, "transform": [{"filter": "datum.s=='R'&&datum.b=='r'"}], "mark": {"type": "text", "fontSize": 26, "align": "left", "baseline": "alphabetic", "color": "#000"}, "encoding": {"x": {"field": "t", "type": "quantitative", "scale": {"domain": [-40,100], "nice": false, "zero": false}, "axis": {"orient": "bottom", "values": [-40,-30,-20,-10,10,20,30,40,60,70,80,90], "labels": false, "grid": false, "tickSize": 3, "title": null}}, "y": {"field": "f", "type": "quantitative", "scale": {"domain": [-5.5,53.1], "nice": false, "zero": false}, "axis": {"orient": "left", "values": [-5,5,10,15,25,30,35,45,50], "labels": false, "grid": false, "tickSize": -3, "title": null}}, "text": {"field": "txt"}}}
   ]
  },

  {
   "width": 219, "height": 170,
   "resolve": {"axis": {"x": "independent", "y": "independent"}},
   "layer": [
    {"data": {"name": "crv"}, "transform": [{"filter": "datum.s=='L'&&datum.b=='i'"}], "mark": {"type": "line", "color": "#00ff00", "strokeWidth": 1.6, "interpolate": "monotone", "clip": true}, "encoding": {
      "x": {"field": "t", "type": "quantitative", "scale": {"domain": [-40,100], "nice": false, "zero": false}, "axis": {"orient": "bottom", "values": [0,50,100], "labels": false, "tickSize": 6, "title": null}},
      "y": {"field": "fit", "type": "quantitative", "scale": {"domain": [-37,381], "nice": false, "zero": false}, "axis": {"orient": "left", "values": [0,100,200,300], "tickSize": -6, "labelPadding": 17, "title": null}}}},
    {"data": {"name": "crv"}, "transform": [{"filter": "datum.s=='L'&&datum.b=='i'"}], "mark": {"type": "line", "color": "#00ff00", "strokeWidth": 1, "strokeDash": [2,2], "interpolate": "monotone", "clip": true}, "encoding": {"x": {"field": "t", "type": "quantitative", "scale": {"domain": [-40,100], "nice": false, "zero": false}, "axis": null}, "y": {"field": "lo", "type": "quantitative", "scale": {"domain": [-37,381], "nice": false, "zero": false}, "axis": null}}},
    {"data": {"name": "crv"}, "transform": [{"filter": "datum.s=='L'&&datum.b=='i'"}], "mark": {"type": "line", "color": "#00ff00", "strokeWidth": 1, "strokeDash": [2,2], "interpolate": "monotone", "clip": true}, "encoding": {"x": {"field": "t", "type": "quantitative", "scale": {"domain": [-40,100], "nice": false, "zero": false}, "axis": null}, "y": {"field": "hi", "type": "quantitative", "scale": {"domain": [-37,381], "nice": false, "zero": false}, "axis": null}}},
    {"data": {"name": "crv"}, "transform": [{"filter": "datum.s=='L'&&datum.b=='i'"}], "mark": {"type": "line", "color": "#0000ff", "strokeWidth": 2, "strokeDash": [4,3], "interpolate": "monotone", "clip": true}, "encoding": {"x": {"field": "t", "type": "quantitative", "scale": {"domain": [-40,100], "nice": false, "zero": false}, "axis": null}, "y": {"field": "alt", "type": "quantitative", "scale": {"domain": [-37,381], "nice": false, "zero": false}, "axis": null}}},
    {"data": {"name": "pts"}, "transform": [{"filter": "datum.s=='L'&&datum.b=='i'"}], "mark": {"type": "rule", "color": "#000", "strokeWidth": 1.2, "clip": true}, "encoding": {"x": {"field": "t", "type": "quantitative", "scale": {"domain": [-40,100], "nice": false, "zero": false}, "axis": null}, "y": {"field": "el", "type": "quantitative", "scale": {"domain": [-37,381], "nice": false, "zero": false}, "axis": null}, "y2": {"field": "eh"}}},
    {"data": {"name": "pts"}, "transform": [{"filter": "datum.s=='L'&&datum.b=='i'&&datum.k=='d'"}], "mark": {"type": "point", "filled": true, "color": "#000", "opacity": 1, "size": 20, "clip": true}, "encoding": {"x": {"field": "t", "type": "quantitative", "scale": {"domain": [-40,100], "nice": false, "zero": false}, "axis": null}, "y": {"field": "f", "type": "quantitative", "scale": {"domain": [-37,381], "nice": false, "zero": false}, "axis": null}}},
    {"data": {"name": "pts"}, "transform": [{"filter": "datum.s=='L'&&datum.b=='i'&&datum.k=='s'"}], "mark": {"type": "point", "shape": "M0,-1L0.2245,-0.309L0.9511,-0.309L0.3633,0.118L0.5878,0.809L0,0.382L-0.5878,0.809L-0.3633,0.118L-0.9511,-0.309L-0.2245,-0.309Z", "filled": true, "color": "#ff0000", "opacity": 1, "size": 60, "clip": true}, "encoding": {"x": {"field": "t", "type": "quantitative", "scale": {"domain": [-40,100], "nice": false, "zero": false}, "axis": null}, "y": {"field": "f", "type": "quantitative", "scale": {"domain": [-37,381], "nice": false, "zero": false}, "axis": null}}},
    {"data": {"name": "lab"}, "transform": [{"filter": "datum.s=='L'&&datum.b=='i'"}], "mark": {"type": "text", "fontSize": 26, "align": "left", "baseline": "alphabetic", "color": "#000"}, "encoding": {"x": {"field": "t", "type": "quantitative", "scale": {"domain": [-40,100], "nice": false, "zero": false}, "axis": {"orient": "bottom", "values": [-40,-30,-20,-10,10,20,30,40,60,70,80,90], "labels": false, "grid": false, "tickSize": 3, "title": null}}, "y": {"field": "f", "type": "quantitative", "scale": {"domain": [-37,381], "nice": false, "zero": false}, "axis": {"orient": "left", "values": [-20,20,40,60,80,120,140,160,180,220,240,260,280,320,340,360,380], "labels": false, "grid": false, "tickSize": -3, "title": null}}, "text": {"field": "txt"}}}
   ]
  },
  {
   "width": 219, "height": 170,
   "resolve": {"axis": {"x": "independent", "y": "independent"}},
   "layer": [
    {"data": {"name": "crv"}, "transform": [{"filter": "datum.s=='L'&&datum.b=='z'"}], "mark": {"type": "line", "color": "#00ff00", "strokeWidth": 1.6, "interpolate": "monotone", "clip": true}, "encoding": {
      "x": {"field": "t", "type": "quantitative", "scale": {"domain": [-40,100], "nice": false, "zero": false}, "axis": {"orient": "bottom", "values": [0,50,100], "labelPadding": 1, "labelFontSize": 14, "tickSize": 6, "title": "T_obs - 53366", "titleX": 219, "titleY": 37, "titleAlign": "right", "titleBaseline": "alphabetic", "titleAngle": 0}},
      "y": {"field": "fit", "type": "quantitative", "scale": {"domain": [-25.2,259.8], "nice": false, "zero": false}, "axis": {"orient": "left", "values": [0,100,200], "tickSize": -6, "labelPadding": 17, "title": "Flux", "titleX": -50, "titleY": 0, "titleAngle": -90, "titleAlign": "right", "titleBaseline": "top"}}}},
    {"data": {"name": "crv"}, "transform": [{"filter": "datum.s=='L'&&datum.b=='z'"}], "mark": {"type": "line", "color": "#00ff00", "strokeWidth": 1, "strokeDash": [2,2], "interpolate": "monotone", "clip": true}, "encoding": {"x": {"field": "t", "type": "quantitative", "scale": {"domain": [-40,100], "nice": false, "zero": false}, "axis": null}, "y": {"field": "lo", "type": "quantitative", "scale": {"domain": [-25.2,259.8], "nice": false, "zero": false}, "axis": null}}},
    {"data": {"name": "crv"}, "transform": [{"filter": "datum.s=='L'&&datum.b=='z'"}], "mark": {"type": "line", "color": "#00ff00", "strokeWidth": 1, "strokeDash": [2,2], "interpolate": "monotone", "clip": true}, "encoding": {"x": {"field": "t", "type": "quantitative", "scale": {"domain": [-40,100], "nice": false, "zero": false}, "axis": null}, "y": {"field": "hi", "type": "quantitative", "scale": {"domain": [-25.2,259.8], "nice": false, "zero": false}, "axis": null}}},
    {"data": {"name": "crv"}, "transform": [{"filter": "datum.s=='L'&&datum.b=='z'"}], "mark": {"type": "line", "color": "#0000ff", "strokeWidth": 2, "strokeDash": [4,3], "interpolate": "monotone", "clip": true}, "encoding": {"x": {"field": "t", "type": "quantitative", "scale": {"domain": [-40,100], "nice": false, "zero": false}, "axis": null}, "y": {"field": "alt", "type": "quantitative", "scale": {"domain": [-25.2,259.8], "nice": false, "zero": false}, "axis": null}}},
    {"data": {"name": "pts"}, "transform": [{"filter": "datum.s=='L'&&datum.b=='z'"}], "mark": {"type": "rule", "color": "#000", "strokeWidth": 1.2, "clip": true}, "encoding": {"x": {"field": "t", "type": "quantitative", "scale": {"domain": [-40,100], "nice": false, "zero": false}, "axis": null}, "y": {"field": "el", "type": "quantitative", "scale": {"domain": [-25.2,259.8], "nice": false, "zero": false}, "axis": null}, "y2": {"field": "eh"}}},
    {"data": {"name": "pts"}, "transform": [{"filter": "datum.s=='L'&&datum.b=='z'&&datum.k=='d'"}], "mark": {"type": "point", "filled": true, "color": "#000", "opacity": 1, "size": 20, "clip": true}, "encoding": {"x": {"field": "t", "type": "quantitative", "scale": {"domain": [-40,100], "nice": false, "zero": false}, "axis": null}, "y": {"field": "f", "type": "quantitative", "scale": {"domain": [-25.2,259.8], "nice": false, "zero": false}, "axis": null}}},
    {"data": {"name": "pts"}, "transform": [{"filter": "datum.s=='L'&&datum.b=='z'&&datum.k=='s'"}], "mark": {"type": "point", "shape": "M0,-1L0.2245,-0.309L0.9511,-0.309L0.3633,0.118L0.5878,0.809L0,0.382L-0.5878,0.809L-0.3633,0.118L-0.9511,-0.309L-0.2245,-0.309Z", "filled": true, "color": "#ff0000", "opacity": 1, "size": 60, "clip": true}, "encoding": {"x": {"field": "t", "type": "quantitative", "scale": {"domain": [-40,100], "nice": false, "zero": false}, "axis": null}, "y": {"field": "f", "type": "quantitative", "scale": {"domain": [-25.2,259.8], "nice": false, "zero": false}, "axis": null}}},
    {"data": {"name": "lab"}, "transform": [{"filter": "datum.s=='L'&&datum.b=='z'"}], "mark": {"type": "text", "fontSize": 26, "align": "left", "baseline": "alphabetic", "color": "#000"}, "encoding": {"x": {"field": "t", "type": "quantitative", "scale": {"domain": [-40,100], "nice": false, "zero": false}, "axis": {"orient": "bottom", "values": [-40,-30,-20,-10,10,20,30,40,60,70,80,90], "labels": false, "grid": false, "tickSize": 3, "title": null}}, "y": {"field": "f", "type": "quantitative", "scale": {"domain": [-25.2,259.8], "nice": false, "zero": false}, "axis": {"orient": "left", "values": [-20,20,40,60,80,120,140,160,180,220,240], "labels": false, "grid": false, "tickSize": -3, "title": null}}, "text": {"field": "txt"}}}
   ]
  },
  {"width": 55, "height": 170, "view": {"stroke": null}, "data": {"values": [{"t": 0, "f": 0}]}, "mark": {"type": "point", "opacity": 0}, "encoding": {"x": {"field": "t", "type": "quantitative", "axis": null}, "y": {"field": "f", "type": "quantitative", "axis": null}}},
  {
   "width": 219, "height": 170,
   "resolve": {"axis": {"x": "independent", "y": "independent"}},
   "layer": [
    {"data": {"name": "crv"}, "transform": [{"filter": "datum.s=='R'&&datum.b=='i'"}], "mark": {"type": "line", "color": "#00ff00", "strokeWidth": 1.6, "interpolate": "monotone", "clip": true}, "encoding": {
      "x": {"field": "t", "type": "quantitative", "scale": {"domain": [-40,100], "nice": false, "zero": false}, "axis": {"orient": "bottom", "values": [0,50,100], "labels": false, "tickSize": 6, "title": null}},
      "y": {"field": "fit", "type": "quantitative", "scale": {"domain": [-7.3,73.8], "nice": false, "zero": false}, "axis": {"orient": "left", "values": [0,20,40,60], "tickSize": -6, "labelPadding": 17, "title": null}}}},
    {"data": {"name": "crv"}, "transform": [{"filter": "datum.s=='R'&&datum.b=='i'"}], "mark": {"type": "line", "color": "#00ff00", "strokeWidth": 1, "strokeDash": [2,2], "interpolate": "monotone", "clip": true}, "encoding": {"x": {"field": "t", "type": "quantitative", "scale": {"domain": [-40,100], "nice": false, "zero": false}, "axis": null}, "y": {"field": "lo", "type": "quantitative", "scale": {"domain": [-7.3,73.8], "nice": false, "zero": false}, "axis": null}}},
    {"data": {"name": "crv"}, "transform": [{"filter": "datum.s=='R'&&datum.b=='i'"}], "mark": {"type": "line", "color": "#00ff00", "strokeWidth": 1, "strokeDash": [2,2], "interpolate": "monotone", "clip": true}, "encoding": {"x": {"field": "t", "type": "quantitative", "scale": {"domain": [-40,100], "nice": false, "zero": false}, "axis": null}, "y": {"field": "hi", "type": "quantitative", "scale": {"domain": [-7.3,73.8], "nice": false, "zero": false}, "axis": null}}},
    {"data": {"name": "crv"}, "transform": [{"filter": "datum.s=='R'&&datum.b=='i'"}], "mark": {"type": "line", "color": "#0000ff", "strokeWidth": 2, "strokeDash": [4,3], "interpolate": "monotone", "clip": true}, "encoding": {"x": {"field": "t", "type": "quantitative", "scale": {"domain": [-40,100], "nice": false, "zero": false}, "axis": null}, "y": {"field": "alt", "type": "quantitative", "scale": {"domain": [-7.3,73.8], "nice": false, "zero": false}, "axis": null}}},
    {"data": {"name": "pts"}, "transform": [{"filter": "datum.s=='R'&&datum.b=='i'"}], "mark": {"type": "rule", "color": "#222", "strokeWidth": 1.2, "clip": true}, "encoding": {"x": {"field": "t", "type": "quantitative", "scale": {"domain": [-40,100], "nice": false, "zero": false}, "axis": null}, "y": {"field": "el", "type": "quantitative", "scale": {"domain": [-7.3,73.8], "nice": false, "zero": false}, "axis": null}, "y2": {"field": "eh"}}},
    {"data": {"name": "pts"}, "transform": [{"filter": "datum.s=='R'&&datum.b=='i'&&datum.k=='d'"}], "mark": {"type": "point", "filled": true, "color": "#000", "opacity": 1, "size": 20, "clip": true}, "encoding": {"x": {"field": "t", "type": "quantitative", "scale": {"domain": [-40,100], "nice": false, "zero": false}, "axis": null}, "y": {"field": "f", "type": "quantitative", "scale": {"domain": [-7.3,73.8], "nice": false, "zero": false}, "axis": null}}},
    {"data": {"name": "pts"}, "transform": [{"filter": "datum.s=='R'&&datum.b=='i'&&datum.k=='s'"}], "mark": {"type": "point", "shape": "M0,-1L0.2245,-0.309L0.9511,-0.309L0.3633,0.118L0.5878,0.809L0,0.382L-0.5878,0.809L-0.3633,0.118L-0.9511,-0.309L-0.2245,-0.309Z", "filled": true, "color": "#ff0000", "opacity": 1, "size": 60, "clip": true}, "encoding": {"x": {"field": "t", "type": "quantitative", "scale": {"domain": [-40,100], "nice": false, "zero": false}, "axis": null}, "y": {"field": "f", "type": "quantitative", "scale": {"domain": [-7.3,73.8], "nice": false, "zero": false}, "axis": null}}},
    {"data": {"name": "lab"}, "transform": [{"filter": "datum.s=='R'&&datum.b=='i'"}], "mark": {"type": "text", "fontSize": 26, "align": "left", "baseline": "alphabetic", "color": "#000"}, "encoding": {"x": {"field": "t", "type": "quantitative", "scale": {"domain": [-40,100], "nice": false, "zero": false}, "axis": {"orient": "bottom", "values": [-40,-30,-20,-10,10,20,30,40,60,70,80,90], "labels": false, "grid": false, "tickSize": 3, "title": null}}, "y": {"field": "f", "type": "quantitative", "scale": {"domain": [-7.3,73.8], "nice": false, "zero": false}, "axis": {"orient": "left", "values": [-5,5,10,15,25,30,35,45,50,55,65,70], "labels": false, "grid": false, "tickSize": -3, "title": null}}, "text": {"field": "txt"}}}
   ]
  },
  {
   "width": 219, "height": 170,
   "resolve": {"axis": {"x": "independent", "y": "independent"}},
   "layer": [
    {"data": {"name": "crv"}, "transform": [{"filter": "datum.s=='R'&&datum.b=='z'"}], "mark": {"type": "line", "color": "#00ff00", "strokeWidth": 1.6, "interpolate": "monotone", "clip": true}, "encoding": {
      "x": {"field": "t", "type": "quantitative", "scale": {"domain": [-40,100], "nice": false, "zero": false}, "axis": {"orient": "bottom", "values": [0,50,100], "labelPadding": 1, "labelFontSize": 14, "tickSize": 6, "title": "T_obs - 53308.9", "titleX": 219, "titleY": 37, "titleAlign": "right", "titleBaseline": "alphabetic", "titleAngle": 0}},
      "y": {"field": "fit", "type": "quantitative", "scale": {"domain": [-6.7,69], "nice": false, "zero": false}, "axis": {"orient": "left", "values": [0,20,40,60], "tickSize": -6, "labelPadding": 17, "title": "Flux", "titleX": -50, "titleY": 0, "titleAngle": -90, "titleAlign": "right", "titleBaseline": "top"}}}},
    {"data": {"name": "crv"}, "transform": [{"filter": "datum.s=='R'&&datum.b=='z'"}], "mark": {"type": "line", "color": "#00ff00", "strokeWidth": 1, "strokeDash": [2,2], "interpolate": "monotone", "clip": true}, "encoding": {"x": {"field": "t", "type": "quantitative", "scale": {"domain": [-40,100], "nice": false, "zero": false}, "axis": null}, "y": {"field": "lo", "type": "quantitative", "scale": {"domain": [-6.7,69], "nice": false, "zero": false}, "axis": null}}},
    {"data": {"name": "crv"}, "transform": [{"filter": "datum.s=='R'&&datum.b=='z'"}], "mark": {"type": "line", "color": "#00ff00", "strokeWidth": 1, "strokeDash": [2,2], "interpolate": "monotone", "clip": true}, "encoding": {"x": {"field": "t", "type": "quantitative", "scale": {"domain": [-40,100], "nice": false, "zero": false}, "axis": null}, "y": {"field": "hi", "type": "quantitative", "scale": {"domain": [-6.7,69], "nice": false, "zero": false}, "axis": null}}},
    {"data": {"name": "crv"}, "transform": [{"filter": "datum.s=='R'&&datum.b=='z'"}], "mark": {"type": "line", "color": "#0000ff", "strokeWidth": 2, "strokeDash": [4,3], "interpolate": "monotone", "clip": true}, "encoding": {"x": {"field": "t", "type": "quantitative", "scale": {"domain": [-40,100], "nice": false, "zero": false}, "axis": null}, "y": {"field": "alt", "type": "quantitative", "scale": {"domain": [-6.7,69], "nice": false, "zero": false}, "axis": null}}},
    {"data": {"name": "pts"}, "transform": [{"filter": "datum.s=='R'&&datum.b=='z'"}], "mark": {"type": "rule", "color": "#222", "strokeWidth": 1.2, "clip": true}, "encoding": {"x": {"field": "t", "type": "quantitative", "scale": {"domain": [-40,100], "nice": false, "zero": false}, "axis": null}, "y": {"field": "el", "type": "quantitative", "scale": {"domain": [-6.7,69], "nice": false, "zero": false}, "axis": null}, "y2": {"field": "eh"}}},
    {"data": {"name": "pts"}, "transform": [{"filter": "datum.s=='R'&&datum.b=='z'&&datum.k=='d'"}], "mark": {"type": "point", "filled": true, "color": "#000", "opacity": 1, "size": 20, "clip": true}, "encoding": {"x": {"field": "t", "type": "quantitative", "scale": {"domain": [-40,100], "nice": false, "zero": false}, "axis": null}, "y": {"field": "f", "type": "quantitative", "scale": {"domain": [-6.7,69], "nice": false, "zero": false}, "axis": null}}},
    {"data": {"name": "pts"}, "transform": [{"filter": "datum.s=='R'&&datum.b=='z'&&datum.k=='s'"}], "mark": {"type": "point", "shape": "M0,-1L0.2245,-0.309L0.9511,-0.309L0.3633,0.118L0.5878,0.809L0,0.382L-0.5878,0.809L-0.3633,0.118L-0.9511,-0.309L-0.2245,-0.309Z", "filled": true, "color": "#ff0000", "opacity": 1, "size": 60, "clip": true}, "encoding": {"x": {"field": "t", "type": "quantitative", "scale": {"domain": [-40,100], "nice": false, "zero": false}, "axis": null}, "y": {"field": "f", "type": "quantitative", "scale": {"domain": [-6.7,69], "nice": false, "zero": false}, "axis": null}}},
    {"data": {"name": "lab"}, "transform": [{"filter": "datum.s=='R'&&datum.b=='z'"}], "mark": {"type": "text", "fontSize": 26, "align": "left", "baseline": "alphabetic", "color": "#000"}, "encoding": {"x": {"field": "t", "type": "quantitative", "scale": {"domain": [-40,100], "nice": false, "zero": false}, "axis": {"orient": "bottom", "values": [-40,-30,-20,-10,10,20,30,40,60,70,80,90], "labels": false, "grid": false, "tickSize": 3, "title": null}}, "y": {"field": "f", "type": "quantitative", "scale": {"domain": [-6.7,69], "nice": false, "zero": false}, "axis": {"orient": "left", "values": [-5,5,10,15,25,30,35,45,50,55,65], "labels": false, "grid": false, "tickSize": -3, "title": null}}, "text": {"field": "txt"}}}
   ]
  },

  {
   "width": 219, "height": 171,
   "resolve": {"axis": {"x": "independent", "y": "independent"}},
   "layer": [
    {"data": {"name": "crv"}, "transform": [{"filter": "datum.s=='L'&&datum.b=='Y'"}], "mark": {"type": "line", "color": "#00ff00", "strokeWidth": 1.6, "interpolate": "monotone", "clip": true}, "encoding": {
      "x": {"field": "t", "type": "quantitative", "scale": {"domain": [-40,100], "nice": false, "zero": false}, "axis": {"orient": "bottom", "values": [0,50,100], "labelPadding": 1, "labelFontSize": 14, "tickSize": 6, "title": "T_obs - 53366", "titleX": 219, "titleY": 37, "titleAlign": "right", "titleBaseline": "alphabetic", "titleAngle": 0}},
      "y": {"field": "fit", "type": "quantitative", "scale": {"domain": [0,232.6], "nice": false, "zero": false}, "axis": {"orient": "left", "values": [0,50,100,150,200], "tickSize": -6, "labelPadding": 17, "title": "Flux", "titleX": -50, "titleY": 0, "titleAngle": -90, "titleAlign": "right", "titleBaseline": "top"}}}},
    {"data": {"name": "crv"}, "transform": [{"filter": "datum.s=='L'&&datum.b=='Y'"}], "mark": {"type": "line", "color": "#00ff00", "strokeWidth": 1, "strokeDash": [2,2], "interpolate": "monotone", "clip": true}, "encoding": {"x": {"field": "t", "type": "quantitative", "scale": {"domain": [-40,100], "nice": false, "zero": false}, "axis": null}, "y": {"field": "lo", "type": "quantitative", "scale": {"domain": [0,232.6], "nice": false, "zero": false}, "axis": null}}},
    {"data": {"name": "crv"}, "transform": [{"filter": "datum.s=='L'&&datum.b=='Y'"}], "mark": {"type": "line", "color": "#00ff00", "strokeWidth": 1, "strokeDash": [2,2], "interpolate": "monotone", "clip": true}, "encoding": {"x": {"field": "t", "type": "quantitative", "scale": {"domain": [-40,100], "nice": false, "zero": false}, "axis": null}, "y": {"field": "hi", "type": "quantitative", "scale": {"domain": [0,232.6], "nice": false, "zero": false}, "axis": null}}},
    {"data": {"name": "crv"}, "transform": [{"filter": "datum.s=='L'&&datum.b=='Y'"}], "mark": {"type": "line", "color": "#0000ff", "strokeWidth": 2, "strokeDash": [4,3], "interpolate": "monotone", "clip": true}, "encoding": {"x": {"field": "t", "type": "quantitative", "scale": {"domain": [-40,100], "nice": false, "zero": false}, "axis": null}, "y": {"field": "alt", "type": "quantitative", "scale": {"domain": [0,232.6], "nice": false, "zero": false}, "axis": null}}},
    {"data": {"name": "pts"}, "transform": [{"filter": "datum.s=='L'&&datum.b=='Y'"}], "mark": {"type": "rule", "color": "#000", "strokeWidth": 1.2, "clip": true}, "encoding": {"x": {"field": "t", "type": "quantitative", "scale": {"domain": [-40,100], "nice": false, "zero": false}, "axis": null}, "y": {"field": "el", "type": "quantitative", "scale": {"domain": [0,232.6], "nice": false, "zero": false}, "axis": null}, "y2": {"field": "eh"}}},
    {"data": {"name": "pts"}, "transform": [{"filter": "datum.s=='L'&&datum.b=='Y'&&datum.k=='d'"}], "mark": {"type": "point", "filled": true, "color": "#000", "opacity": 1, "size": 20, "clip": true}, "encoding": {"x": {"field": "t", "type": "quantitative", "scale": {"domain": [-40,100], "nice": false, "zero": false}, "axis": null}, "y": {"field": "f", "type": "quantitative", "scale": {"domain": [0,232.6], "nice": false, "zero": false}, "axis": null}}},
    {"data": {"name": "pts"}, "transform": [{"filter": "datum.s=='L'&&datum.b=='Y'&&datum.k=='s'"}], "mark": {"type": "point", "shape": "M0,-1L0.2245,-0.309L0.9511,-0.309L0.3633,0.118L0.5878,0.809L0,0.382L-0.5878,0.809L-0.3633,0.118L-0.9511,-0.309L-0.2245,-0.309Z", "filled": true, "color": "#ff0000", "opacity": 1, "size": 60, "clip": true}, "encoding": {"x": {"field": "t", "type": "quantitative", "scale": {"domain": [-40,100], "nice": false, "zero": false}, "axis": null}, "y": {"field": "f", "type": "quantitative", "scale": {"domain": [0,232.6], "nice": false, "zero": false}, "axis": null}}},
    {"data": {"name": "lab"}, "transform": [{"filter": "datum.s=='L'&&datum.b=='Y'"}], "mark": {"type": "text", "fontSize": 26, "align": "left", "baseline": "alphabetic", "color": "#000"}, "encoding": {"x": {"field": "t", "type": "quantitative", "scale": {"domain": [-40,100], "nice": false, "zero": false}, "axis": {"orient": "bottom", "values": [-40,-30,-20,-10,10,20,30,40,60,70,80,90], "labels": false, "grid": false, "tickSize": 3, "title": null}}, "y": {"field": "f", "type": "quantitative", "scale": {"domain": [0,232.6], "nice": false, "zero": false}, "axis": {"orient": "left", "values": [10,20,30,40,60,70,80,90,110,120,130,140,160,170,180,190,210,220,230], "labels": false, "grid": false, "tickSize": -3, "title": null}}, "text": {"field": "txt"}}}
   ]
  },
  {"width": 219, "height": 171, "data": {"values": [{"t": 0, "f": 0}]}, "mark": {"type": "point", "opacity": 0}, "encoding": {"x": {"field": "t", "type": "quantitative", "axis": null}, "y": {"field": "f", "type": "quantitative", "axis": null}}},
  {"width": 55, "height": 171, "view": {"stroke": null}, "data": {"values": [{"t": 0, "f": 0}]}, "mark": {"type": "point", "opacity": 0}, "encoding": {"x": {"field": "t", "type": "quantitative", "axis": null}, "y": {"field": "f", "type": "quantitative", "axis": null}}},
  {
   "width": 219, "height": 171,
   "resolve": {"axis": {"x": "independent", "y": "independent"}},
   "layer": [
    {"data": {"name": "crv"}, "transform": [{"filter": "datum.s=='R'&&datum.b=='Y'"}], "mark": {"type": "line", "color": "#00ff00", "strokeWidth": 1.6, "interpolate": "monotone", "clip": true}, "encoding": {
      "x": {"field": "t", "type": "quantitative", "scale": {"domain": [-40,100], "nice": false, "zero": false}, "axis": {"orient": "bottom", "values": [0,50,100], "labelPadding": 1, "labelFontSize": 14, "tickSize": 6, "title": "T_obs - 53308.9", "titleX": 219, "titleY": 37, "titleAlign": "right", "titleBaseline": "alphabetic", "titleAngle": 0}},
      "y": {"field": "fit", "type": "quantitative", "scale": {"domain": [0,70], "nice": false, "zero": false}, "axis": {"orient": "left", "values": [0,20,40,60], "tickSize": -6, "labelPadding": 17, "title": "Flux", "titleX": -50, "titleY": 0, "titleAngle": -90, "titleAlign": "right", "titleBaseline": "top"}}}},
    {"data": {"name": "crv"}, "transform": [{"filter": "datum.s=='R'&&datum.b=='Y'"}], "mark": {"type": "line", "color": "#00ff00", "strokeWidth": 1, "strokeDash": [2,2], "interpolate": "monotone", "clip": true}, "encoding": {"x": {"field": "t", "type": "quantitative", "scale": {"domain": [-40,100], "nice": false, "zero": false}, "axis": null}, "y": {"field": "lo", "type": "quantitative", "scale": {"domain": [0,70], "nice": false, "zero": false}, "axis": null}}},
    {"data": {"name": "crv"}, "transform": [{"filter": "datum.s=='R'&&datum.b=='Y'"}], "mark": {"type": "line", "color": "#00ff00", "strokeWidth": 1, "strokeDash": [2,2], "interpolate": "monotone", "clip": true}, "encoding": {"x": {"field": "t", "type": "quantitative", "scale": {"domain": [-40,100], "nice": false, "zero": false}, "axis": null}, "y": {"field": "hi", "type": "quantitative", "scale": {"domain": [0,70], "nice": false, "zero": false}, "axis": null}}},
    {"data": {"name": "crv"}, "transform": [{"filter": "datum.s=='R'&&datum.b=='Y'"}], "mark": {"type": "line", "color": "#0000ff", "strokeWidth": 2, "strokeDash": [4,3], "interpolate": "monotone", "clip": true}, "encoding": {"x": {"field": "t", "type": "quantitative", "scale": {"domain": [-40,100], "nice": false, "zero": false}, "axis": null}, "y": {"field": "alt", "type": "quantitative", "scale": {"domain": [0,70], "nice": false, "zero": false}, "axis": null}}},
    {"data": {"name": "pts"}, "transform": [{"filter": "datum.s=='R'&&datum.b=='Y'"}], "mark": {"type": "rule", "color": "#333", "strokeWidth": 1.2, "clip": true}, "encoding": {"x": {"field": "t", "type": "quantitative", "scale": {"domain": [-40,100], "nice": false, "zero": false}, "axis": null}, "y": {"field": "el", "type": "quantitative", "scale": {"domain": [0,70], "nice": false, "zero": false}, "axis": null}, "y2": {"field": "eh"}}},
    {"data": {"name": "pts"}, "transform": [{"filter": "datum.s=='R'&&datum.b=='Y'&&datum.k=='d'"}], "mark": {"type": "point", "filled": true, "color": "#000", "opacity": 1, "size": 20, "clip": true}, "encoding": {"x": {"field": "t", "type": "quantitative", "scale": {"domain": [-40,100], "nice": false, "zero": false}, "axis": null}, "y": {"field": "f", "type": "quantitative", "scale": {"domain": [0,70], "nice": false, "zero": false}, "axis": null}}},
    {"data": {"name": "lab"}, "transform": [{"filter": "datum.s=='R'&&datum.b=='Y'"}], "mark": {"type": "text", "fontSize": 26, "align": "left", "baseline": "alphabetic", "color": "#000"}, "encoding": {"x": {"field": "t", "type": "quantitative", "scale": {"domain": [-40,100], "nice": false, "zero": false}, "axis": {"orient": "bottom", "values": [-40,-30,-20,-10,10,20,30,40,60,70,80,90], "labels": false, "grid": false, "tickSize": 3, "title": null}}, "y": {"field": "f", "type": "quantitative", "scale": {"domain": [0,70], "nice": false, "zero": false}, "axis": {"orient": "left", "values": [5,10,15,25,30,35,45,50,55,65], "labels": false, "grid": false, "tickSize": -3, "title": null}}, "text": {"field": "txt"}}}
   ]
  },
  {"width": 219, "height": 171, "data": {"values": [{"t": 0, "f": 0}]}, "mark": {"type": "point", "opacity": 0}, "encoding": {"x": {"field": "t", "type": "quantitative", "axis": null}, "y": {"field": "f", "type": "quantitative", "axis": null}}}
 ],
 "config": {
  "font": "Liberation Sans",
  "view": {"stroke": "#000", "strokeWidth": 1.5},
  "axis": {"domain": false, "grid": true, "gridColor": "#000", "gridDash": [1,2], "gridWidth": 1, "gridOpacity": 1, "tickColor": "#000", "tickWidth": 1, "labelColor": "#000", "labelFontSize": 13, "labelFont": "Liberation Sans", "titleFont": "Liberation Sans", "titleFontSize": 18, "titleFontWeight": "normal", "titleColor": "#000", "labelOverlap": false, "labelFlush": false},
  "title": {"font": "Liberation Sans", "fontSize": 18, "fontWeight": "normal", "color": "#000", "anchor": "start", "frame": "group", "subtitleFont": "Liberation Sans", "subtitleFontSize": 16, "subtitleColor": "#000", "subtitlePadding": 7, "subtitleLineHeight": 16.5, "offset": 8}
 }
}
